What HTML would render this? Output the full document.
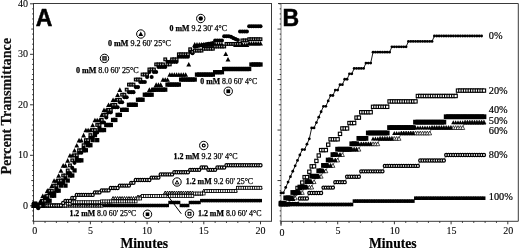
<!DOCTYPE html>
<html><head><meta charset="utf-8"><title>Percent Transmittance</title>
<style>html,body{margin:0;padding:0;background:#fff}svg{display:block}</style></head>
<body><svg width="520" height="249" viewBox="0 0 520 249"><rect x="33.5" y="3.5" width="238.0" height="217.8" fill="#fff" stroke="#3a3a3a" stroke-width="1"/>
<path d="M278 3.5 H518.3 V221.3 H281" fill="none" stroke="#3a3a3a" stroke-width="1"/>
<path d="M281 3.5 V221.3" fill="none" stroke="#6a6a6a" stroke-width="0.9"/>
<path d="M33.7 221.3 v3 M45.04 221.3 v1.6 M56.38 221.3 v1.6 M67.72 221.3 v1.6 M79.06 221.3 v1.6 M90.4 221.3 v3 M101.74 221.3 v1.6 M113.08 221.3 v1.6 M124.42 221.3 v1.6 M135.76 221.3 v1.6 M147.1 221.3 v3 M158.44 221.3 v1.6 M169.78 221.3 v1.6 M181.12 221.3 v1.6 M192.46 221.3 v1.6 M203.8 221.3 v3 M215.14 221.3 v1.6 M226.48 221.3 v1.6 M237.82 221.3 v1.6 M249.16 221.3 v1.6 M260.5 221.3 v3" stroke="#222" stroke-width="0.9" fill="none"/>
<path d="M281 221.3 v3 M292.34 221.3 v1.6 M303.68 221.3 v1.6 M315.02 221.3 v1.6 M326.36 221.3 v1.6 M337.7 221.3 v3 M349.04 221.3 v1.6 M360.38 221.3 v1.6 M371.72 221.3 v1.6 M383.06 221.3 v1.6 M394.4 221.3 v3 M405.74 221.3 v1.6 M417.08 221.3 v1.6 M428.42 221.3 v1.6 M439.76 221.3 v1.6 M451.1 221.3 v3 M462.44 221.3 v1.6 M473.78 221.3 v1.6 M485.12 221.3 v1.6 M496.46 221.3 v1.6 M507.8 221.3 v3" stroke="#222" stroke-width="0.9" fill="none"/>
<path d="M281 221.3 v4.5" stroke="#222" stroke-width="0.9" fill="none"/>
<path d="M33.5 220.95 h-1.3 M33.5 215.9 h-1.3 M33.5 210.85 h-1.3 M33.5 205.8 h-3.5 M33.5 200.75 h-1.3 M33.5 195.7 h-1.3 M33.5 190.65 h-1.3 M33.5 185.6 h-1.3 M33.5 180.55 h-2.2 M33.5 175.5 h-1.3 M33.5 170.45 h-1.3 M33.5 165.4 h-1.3 M33.5 160.35 h-1.3 M33.5 155.3 h-3.5 M33.5 150.25 h-1.3 M33.5 145.2 h-1.3 M33.5 140.15 h-1.3 M33.5 135.1 h-1.3 M33.5 130.05 h-2.2 M33.5 125 h-1.3 M33.5 119.95 h-1.3 M33.5 114.9 h-1.3 M33.5 109.85 h-1.3 M33.5 104.8 h-3.5 M33.5 99.75 h-1.3 M33.5 94.7 h-1.3 M33.5 89.65 h-1.3 M33.5 84.6 h-1.3 M33.5 79.55 h-2.2 M33.5 74.5 h-1.3 M33.5 69.45 h-1.3 M33.5 64.4 h-1.3 M33.5 59.35 h-1.3 M33.5 54.3 h-3.5 M33.5 49.25 h-1.3 M33.5 44.2 h-1.3 M33.5 39.15 h-1.3 M33.5 34.1 h-1.3 M33.5 29.05 h-2.2 M33.5 24 h-1.3 M33.5 18.95 h-1.3 M33.5 13.9 h-1.3 M33.5 8.85 h-1.3 M33.5 3.8 h-3.5" stroke="#222" stroke-width="0.9" fill="none"/>
<path d="M281 220.95 h-1.3 M281 215.9 h-1.3 M281 210.85 h-1.3 M281 205.8 h-2.2 M281 200.75 h-1.3 M281 195.7 h-1.3 M281 190.65 h-1.3 M281 185.6 h-1.3 M281 180.55 h-3.5 M281 175.5 h-1.3 M281 170.45 h-1.3 M281 165.4 h-1.3 M281 160.35 h-1.3 M281 155.3 h-2.2 M281 150.25 h-1.3 M281 145.2 h-1.3 M281 140.15 h-1.3 M281 135.1 h-1.3 M281 130.05 h-3.5 M281 125 h-1.3 M281 119.95 h-1.3 M281 114.9 h-1.3 M281 109.85 h-1.3 M281 104.8 h-2.2 M281 99.75 h-1.3 M281 94.7 h-1.3 M281 89.65 h-1.3 M281 84.6 h-1.3 M281 79.55 h-3.5 M281 74.5 h-1.3 M281 69.45 h-1.3 M281 64.4 h-1.3 M281 59.35 h-1.3 M281 54.3 h-2.2 M281 49.25 h-1.3 M281 44.2 h-1.3 M281 39.15 h-1.3 M281 34.1 h-1.3 M281 29.05 h-3.5 M281 24 h-1.3 M281 18.95 h-1.3 M281 13.9 h-1.3 M281 8.85 h-1.3 M281 3.8 h-2.2" stroke="#222" stroke-width="0.9" fill="none"/>
<g><rect x="32.2" y="203.8" width="3.0" height="3.4" fill="#000"/><rect x="34.47" y="203.8" width="3.0" height="3.4" fill="#000"/><rect x="36.74" y="203.8" width="3.0" height="3.4" fill="#000"/><rect x="39" y="203.8" width="3.0" height="3.4" fill="#000"/><rect x="41.27" y="203.8" width="3.0" height="3.4" fill="#000"/><rect x="43.54" y="203.8" width="3.0" height="3.4" fill="#000"/><rect x="45.81" y="203.8" width="3.0" height="3.4" fill="#000"/><rect x="48.08" y="203.8" width="3.0" height="3.4" fill="#000"/><rect x="50.34" y="203.8" width="3.0" height="3.4" fill="#000"/><rect x="52.61" y="203.8" width="3.0" height="3.4" fill="#000"/><rect x="54.88" y="203.8" width="3.0" height="3.4" fill="#000"/><rect x="57.15" y="203.8" width="3.0" height="3.4" fill="#000"/><rect x="59.42" y="203.8" width="3.0" height="3.4" fill="#000"/><rect x="61.68" y="203.8" width="3.0" height="3.4" fill="#000"/><rect x="63.95" y="203.8" width="3.0" height="3.4" fill="#000"/><rect x="66.22" y="203.8" width="3.0" height="3.4" fill="#000"/><rect x="68.49" y="203.8" width="3.0" height="3.4" fill="#000"/><rect x="70.76" y="203.8" width="3.0" height="3.4" fill="#000"/><rect x="73.02" y="203.8" width="3.0" height="3.4" fill="#000"/><rect x="75.29" y="203.8" width="3.0" height="3.4" fill="#000"/><rect x="77.56" y="203.8" width="3.0" height="3.4" fill="#000"/><rect x="79.83" y="203.8" width="3.0" height="3.4" fill="#000"/><rect x="82.1" y="203.8" width="3.0" height="3.4" fill="#000"/><rect x="84.36" y="203.8" width="3.0" height="3.4" fill="#000"/><rect x="86.63" y="203.8" width="3.0" height="3.4" fill="#000"/><rect x="88.9" y="203.8" width="3.0" height="3.4" fill="#000"/><rect x="91.17" y="203.8" width="3.0" height="3.4" fill="#000"/><rect x="93.44" y="203.8" width="3.0" height="3.4" fill="#000"/><rect x="95.7" y="203.8" width="3.0" height="3.4" fill="#000"/><rect x="97.97" y="203.8" width="3.0" height="3.4" fill="#000"/><rect x="100.24" y="203.8" width="3.0" height="3.4" fill="#000"/><rect x="102.51" y="203.8" width="3.0" height="3.4" fill="#000"/><rect x="104.78" y="203.8" width="3.0" height="3.4" fill="#000"/><rect x="107.04" y="203.8" width="3.0" height="3.4" fill="#000"/><rect x="109.31" y="203.8" width="3.0" height="3.4" fill="#000"/><rect x="111.58" y="203.8" width="3.0" height="3.4" fill="#000"/><rect x="113.85" y="203.8" width="3.0" height="3.4" fill="#000"/><rect x="116.12" y="203.8" width="3.0" height="3.4" fill="#000"/><rect x="118.38" y="203.8" width="3.0" height="3.4" fill="#000"/><rect x="120.65" y="203.8" width="3.0" height="3.4" fill="#000"/><rect x="122.92" y="203.8" width="3.0" height="3.4" fill="#000"/><rect x="125.19" y="203.8" width="3.0" height="3.4" fill="#000"/><rect x="127.46" y="203.8" width="3.0" height="3.4" fill="#000"/><rect x="129.72" y="203.8" width="3.0" height="3.4" fill="#000"/><rect x="131.99" y="203.8" width="3.0" height="3.4" fill="#000"/><rect x="134.26" y="203.8" width="3.0" height="3.4" fill="#000"/><rect x="136.53" y="203.8" width="3.0" height="3.4" fill="#000"/><rect x="138.8" y="203.8" width="3.0" height="3.4" fill="#000"/><rect x="141.06" y="203.8" width="3.0" height="3.4" fill="#000"/><rect x="143.33" y="203.8" width="3.0" height="3.4" fill="#000"/><rect x="145.6" y="203.8" width="3.0" height="3.4" fill="#000"/><rect x="147.87" y="203.8" width="3.0" height="3.4" fill="#000"/><rect x="150.14" y="203.8" width="3.0" height="3.4" fill="#000"/><rect x="152.4" y="203.8" width="3.0" height="3.4" fill="#000"/><rect x="154.67" y="203.8" width="3.0" height="3.4" fill="#000"/><rect x="156.94" y="203.8" width="3.0" height="3.4" fill="#000"/><rect x="159.21" y="203.8" width="3.0" height="3.4" fill="#000"/><rect x="161.48" y="203.8" width="3.0" height="3.4" fill="#000"/><rect x="163.74" y="203.8" width="3.0" height="3.4" fill="#000"/><rect x="166.01" y="203.8" width="3.0" height="3.4" fill="#000"/><rect x="168.28" y="200.8" width="3.0" height="3.4" fill="#000"/><rect x="170.55" y="200.8" width="3.0" height="3.4" fill="#000"/><rect x="172.82" y="200.8" width="3.0" height="3.4" fill="#000"/><rect x="175.08" y="200.8" width="3.0" height="3.4" fill="#000"/><rect x="177.35" y="200.8" width="3.0" height="3.4" fill="#000"/><rect x="179.62" y="203.8" width="3.0" height="3.4" fill="#000"/><rect x="181.89" y="203.8" width="3.0" height="3.4" fill="#000"/><rect x="184.16" y="203.8" width="3.0" height="3.4" fill="#000"/><rect x="186.42" y="203.8" width="3.0" height="3.4" fill="#000"/><rect x="188.69" y="200.8" width="3.0" height="3.4" fill="#000"/><rect x="190.96" y="200.8" width="3.0" height="3.4" fill="#000"/><rect x="193.23" y="200.8" width="3.0" height="3.4" fill="#000"/><rect x="195.5" y="200.8" width="3.0" height="3.4" fill="#000"/><rect x="197.76" y="200.8" width="3.0" height="3.4" fill="#000"/><rect x="200.03" y="198.9" width="3.0" height="3.4" fill="#000"/><rect x="202.3" y="198.9" width="3.0" height="3.4" fill="#000"/><rect x="204.57" y="198.9" width="3.0" height="3.4" fill="#000"/><rect x="206.84" y="198.9" width="3.0" height="3.4" fill="#000"/><rect x="209.1" y="198.9" width="3.0" height="3.4" fill="#000"/><rect x="211.37" y="198.9" width="3.0" height="3.4" fill="#000"/><rect x="213.64" y="198.9" width="3.0" height="3.4" fill="#000"/><rect x="215.91" y="198.9" width="3.0" height="3.4" fill="#000"/><rect x="218.18" y="198.9" width="3.0" height="3.4" fill="#000"/><rect x="220.44" y="198.9" width="3.0" height="3.4" fill="#000"/><rect x="222.71" y="198.9" width="3.0" height="3.4" fill="#000"/><rect x="224.98" y="198.9" width="3.0" height="3.4" fill="#000"/><rect x="227.25" y="198.9" width="3.0" height="3.4" fill="#000"/><rect x="229.52" y="198.9" width="3.0" height="3.4" fill="#000"/><rect x="231.78" y="198.9" width="3.0" height="3.4" fill="#000"/><rect x="234.05" y="198.9" width="3.0" height="3.4" fill="#000"/><rect x="236.32" y="198.9" width="3.0" height="3.4" fill="#000"/><rect x="238.59" y="198.9" width="3.0" height="3.4" fill="#000"/><rect x="240.86" y="198.9" width="3.0" height="3.4" fill="#000"/><rect x="243.12" y="198.9" width="3.0" height="3.4" fill="#000"/><rect x="245.39" y="198.9" width="3.0" height="3.4" fill="#000"/><rect x="247.66" y="198.9" width="3.0" height="3.4" fill="#000"/><rect x="249.93" y="198.9" width="3.0" height="3.4" fill="#000"/><rect x="252.2" y="198.9" width="3.0" height="3.4" fill="#000"/><rect x="254.46" y="198.9" width="3.0" height="3.4" fill="#000"/><rect x="256.73" y="198.9" width="3.0" height="3.4" fill="#000"/><rect x="259" y="198.9" width="3.0" height="3.4" fill="#000"/></g>
<g><polygon points="32.05,207 35.35,207 33.7,204" fill="#fff" stroke="#000" stroke-width="0.95"/><polygon points="34.32,207 37.62,207 35.97,204" fill="#fff" stroke="#000" stroke-width="0.95"/><polygon points="36.59,207 39.89,207 38.24,204" fill="#fff" stroke="#000" stroke-width="0.95"/><polygon points="38.85,207 42.15,207 40.5,204" fill="#fff" stroke="#000" stroke-width="0.95"/><polygon points="41.12,207 44.42,207 42.77,204" fill="#fff" stroke="#000" stroke-width="0.95"/><polygon points="43.39,207 46.69,207 45.04,204" fill="#fff" stroke="#000" stroke-width="0.95"/><polygon points="45.66,207 48.96,207 47.31,204" fill="#fff" stroke="#000" stroke-width="0.95"/><polygon points="47.93,207 51.23,207 49.58,204" fill="#fff" stroke="#000" stroke-width="0.95"/><polygon points="50.19,207 53.49,207 51.84,204" fill="#fff" stroke="#000" stroke-width="0.95"/><polygon points="52.46,207 55.76,207 54.11,204" fill="#fff" stroke="#000" stroke-width="0.95"/><polygon points="54.73,207 58.03,207 56.38,204" fill="#fff" stroke="#000" stroke-width="0.95"/><polygon points="57,207 60.3,207 58.65,204" fill="#fff" stroke="#000" stroke-width="0.95"/><polygon points="59.27,207 62.57,207 60.92,204" fill="#fff" stroke="#000" stroke-width="0.95"/><polygon points="61.53,207 64.83,207 63.18,204" fill="#fff" stroke="#000" stroke-width="0.95"/><polygon points="63.8,207 67.1,207 65.45,204" fill="#fff" stroke="#000" stroke-width="0.95"/><polygon points="66.07,207 69.37,207 67.72,204" fill="#fff" stroke="#000" stroke-width="0.95"/><polygon points="68.34,207 71.64,207 69.99,204" fill="#fff" stroke="#000" stroke-width="0.95"/><polygon points="70.61,207 73.91,207 72.26,204" fill="#fff" stroke="#000" stroke-width="0.95"/><polygon points="72.87,207 76.17,207 74.52,204" fill="#fff" stroke="#000" stroke-width="0.95"/><polygon points="75.14,207 78.44,207 76.79,204" fill="#fff" stroke="#000" stroke-width="0.95"/><polygon points="77.41,207 80.71,207 79.06,204" fill="#fff" stroke="#000" stroke-width="0.95"/><polygon points="79.68,207 82.98,207 81.33,204" fill="#fff" stroke="#000" stroke-width="0.95"/><polygon points="81.95,207 85.25,207 83.6,204" fill="#fff" stroke="#000" stroke-width="0.95"/><polygon points="84.21,207 87.51,207 85.86,204" fill="#fff" stroke="#000" stroke-width="0.95"/><polygon points="86.48,207 89.78,207 88.13,204" fill="#fff" stroke="#000" stroke-width="0.95"/><polygon points="88.75,207 92.05,207 90.4,204" fill="#fff" stroke="#000" stroke-width="0.95"/><polygon points="91.02,207 94.32,207 92.67,204" fill="#fff" stroke="#000" stroke-width="0.95"/><polygon points="93.29,207 96.59,207 94.94,204" fill="#fff" stroke="#000" stroke-width="0.95"/><polygon points="95.55,207 98.85,207 97.2,204" fill="#fff" stroke="#000" stroke-width="0.95"/><polygon points="97.82,207 101.12,207 99.47,204" fill="#fff" stroke="#000" stroke-width="0.95"/><polygon points="100.09,207 103.39,207 101.74,204" fill="#fff" stroke="#000" stroke-width="0.95"/><polygon points="102.36,204.5 105.66,204.5 104.01,201.5" fill="#fff" stroke="#000" stroke-width="0.95"/><polygon points="104.63,204.5 107.93,204.5 106.28,201.5" fill="#fff" stroke="#000" stroke-width="0.95"/><polygon points="106.89,202.9 110.19,202.9 108.54,199.9" fill="#fff" stroke="#000" stroke-width="0.95"/><polygon points="109.16,202.9 112.46,202.9 110.81,199.9" fill="#fff" stroke="#000" stroke-width="0.95"/><polygon points="111.43,199.5 114.73,199.5 113.08,196.5" fill="#fff" stroke="#000" stroke-width="0.95"/><polygon points="113.7,199.5 117,199.5 115.35,196.5" fill="#fff" stroke="#000" stroke-width="0.95"/><polygon points="115.97,199.5 119.27,199.5 117.62,196.5" fill="#fff" stroke="#000" stroke-width="0.95"/><polygon points="118.23,199.5 121.53,199.5 119.88,196.5" fill="#fff" stroke="#000" stroke-width="0.95"/><polygon points="120.5,199.5 123.8,199.5 122.15,196.5" fill="#fff" stroke="#000" stroke-width="0.95"/><polygon points="122.77,199.5 126.07,199.5 124.42,196.5" fill="#fff" stroke="#000" stroke-width="0.95"/><polygon points="125.04,199.5 128.34,199.5 126.69,196.5" fill="#fff" stroke="#000" stroke-width="0.95"/><polygon points="127.31,199.5 130.61,199.5 128.96,196.5" fill="#fff" stroke="#000" stroke-width="0.95"/><polygon points="129.57,199.5 132.87,199.5 131.22,196.5" fill="#fff" stroke="#000" stroke-width="0.95"/><polygon points="131.84,199.5 135.14,199.5 133.49,196.5" fill="#fff" stroke="#000" stroke-width="0.95"/><polygon points="134.11,199.5 137.41,199.5 135.76,196.5" fill="#fff" stroke="#000" stroke-width="0.95"/><polygon points="136.38,198 139.68,198 138.03,195" fill="#fff" stroke="#000" stroke-width="0.95"/><polygon points="138.65,198 141.95,198 140.3,195" fill="#fff" stroke="#000" stroke-width="0.95"/><polygon points="140.91,197.25 144.21,197.25 142.56,194.25" fill="#fff" stroke="#000" stroke-width="0.95"/><polygon points="143.18,197.25 146.48,197.25 144.83,194.25" fill="#fff" stroke="#000" stroke-width="0.95"/><polygon points="145.45,197.25 148.75,197.25 147.1,194.25" fill="#fff" stroke="#000" stroke-width="0.95"/><polygon points="147.72,197.25 151.02,197.25 149.37,194.25" fill="#fff" stroke="#000" stroke-width="0.95"/><polygon points="149.99,197.25 153.29,197.25 151.64,194.25" fill="#fff" stroke="#000" stroke-width="0.95"/><polygon points="152.25,197.25 155.55,197.25 153.9,194.25" fill="#fff" stroke="#000" stroke-width="0.95"/><polygon points="154.52,197.25 157.82,197.25 156.17,194.25" fill="#fff" stroke="#000" stroke-width="0.95"/><polygon points="156.79,197.25 160.09,197.25 158.44,194.25" fill="#fff" stroke="#000" stroke-width="0.95"/><polygon points="159.06,197.25 162.36,197.25 160.71,194.25" fill="#fff" stroke="#000" stroke-width="0.95"/><polygon points="161.33,197.25 164.63,197.25 162.98,194.25" fill="#fff" stroke="#000" stroke-width="0.95"/><polygon points="163.59,194 166.89,194 165.24,191" fill="#fff" stroke="#000" stroke-width="0.95"/><polygon points="165.86,194 169.16,194 167.51,191" fill="#fff" stroke="#000" stroke-width="0.95"/><polygon points="168.13,194 171.43,194 169.78,191" fill="#fff" stroke="#000" stroke-width="0.95"/><polygon points="170.4,194 173.7,194 172.05,191" fill="#fff" stroke="#000" stroke-width="0.95"/><polygon points="172.67,194 175.97,194 174.32,191" fill="#fff" stroke="#000" stroke-width="0.95"/><polygon points="174.93,194 178.23,194 176.58,191" fill="#fff" stroke="#000" stroke-width="0.95"/><polygon points="177.2,194 180.5,194 178.85,191" fill="#fff" stroke="#000" stroke-width="0.95"/><polygon points="179.47,194 182.77,194 181.12,191" fill="#fff" stroke="#000" stroke-width="0.95"/><polygon points="181.74,194 185.04,194 183.39,191" fill="#fff" stroke="#000" stroke-width="0.95"/><polygon points="184.01,194 187.31,194 185.66,191" fill="#fff" stroke="#000" stroke-width="0.95"/><polygon points="186.27,194 189.57,194 187.92,191" fill="#fff" stroke="#000" stroke-width="0.95"/><polygon points="188.54,194 191.84,194 190.19,191" fill="#fff" stroke="#000" stroke-width="0.95"/><polygon points="190.81,194 194.11,194 192.46,191" fill="#fff" stroke="#000" stroke-width="0.95"/><polygon points="193.08,195 196.38,195 194.73,192" fill="#fff" stroke="#000" stroke-width="0.95"/><polygon points="195.35,195 198.65,195 197,192" fill="#fff" stroke="#000" stroke-width="0.95"/><polygon points="197.61,195 200.91,195 199.26,192" fill="#fff" stroke="#000" stroke-width="0.95"/><polygon points="199.88,195 203.18,195 201.53,192" fill="#fff" stroke="#000" stroke-width="0.95"/><polygon points="202.15,192.1 205.45,192.1 203.8,189.1" fill="#fff" stroke="#000" stroke-width="0.95"/><polygon points="204.42,192.1 207.72,192.1 206.07,189.1" fill="#fff" stroke="#000" stroke-width="0.95"/><polygon points="206.69,192.1 209.99,192.1 208.34,189.1" fill="#fff" stroke="#000" stroke-width="0.95"/><polygon points="208.95,192.1 212.25,192.1 210.6,189.1" fill="#fff" stroke="#000" stroke-width="0.95"/><polygon points="211.22,192.1 214.52,192.1 212.87,189.1" fill="#fff" stroke="#000" stroke-width="0.95"/><polygon points="213.49,192.1 216.79,192.1 215.14,189.1" fill="#fff" stroke="#000" stroke-width="0.95"/><polygon points="215.76,192.1 219.06,192.1 217.41,189.1" fill="#fff" stroke="#000" stroke-width="0.95"/><polygon points="218.03,192.1 221.33,192.1 219.68,189.1" fill="#fff" stroke="#000" stroke-width="0.95"/><polygon points="220.29,192.1 223.59,192.1 221.94,189.1" fill="#fff" stroke="#000" stroke-width="0.95"/><polygon points="222.56,192.1 225.86,192.1 224.21,189.1" fill="#fff" stroke="#000" stroke-width="0.95"/><polygon points="224.83,192.1 228.13,192.1 226.48,189.1" fill="#fff" stroke="#000" stroke-width="0.95"/><polygon points="227.1,192.1 230.4,192.1 228.75,189.1" fill="#fff" stroke="#000" stroke-width="0.95"/><polygon points="229.37,192.1 232.67,192.1 231.02,189.1" fill="#fff" stroke="#000" stroke-width="0.95"/><polygon points="231.63,192.1 234.93,192.1 233.28,189.1" fill="#fff" stroke="#000" stroke-width="0.95"/><polygon points="233.9,192.1 237.2,192.1 235.55,189.1" fill="#fff" stroke="#000" stroke-width="0.95"/><polygon points="236.17,188.9 239.47,188.9 237.82,185.9" fill="#fff" stroke="#000" stroke-width="0.95"/><polygon points="238.44,188.9 241.74,188.9 240.09,185.9" fill="#fff" stroke="#000" stroke-width="0.95"/><polygon points="240.71,188.9 244.01,188.9 242.36,185.9" fill="#fff" stroke="#000" stroke-width="0.95"/><polygon points="242.97,188.9 246.27,188.9 244.62,185.9" fill="#fff" stroke="#000" stroke-width="0.95"/><polygon points="245.24,188.9 248.54,188.9 246.89,185.9" fill="#fff" stroke="#000" stroke-width="0.95"/><polygon points="247.51,188.9 250.81,188.9 249.16,185.9" fill="#fff" stroke="#000" stroke-width="0.95"/><polygon points="249.78,188.9 253.08,188.9 251.43,185.9" fill="#fff" stroke="#000" stroke-width="0.95"/><polygon points="252.05,188.9 255.35,188.9 253.7,185.9" fill="#fff" stroke="#000" stroke-width="0.95"/><polygon points="254.31,188.9 257.61,188.9 255.96,185.9" fill="#fff" stroke="#000" stroke-width="0.95"/><polygon points="256.58,188.9 259.88,188.9 258.23,185.9" fill="#fff" stroke="#000" stroke-width="0.95"/><polygon points="258.85,188.9 262.15,188.9 260.5,185.9" fill="#fff" stroke="#000" stroke-width="0.95"/></g>
<g><rect x="32.4" y="204.05" width="2.6" height="2.9" fill="#fff" stroke="#000" stroke-width="0.8"/><rect x="34.67" y="204.05" width="2.6" height="2.9" fill="#fff" stroke="#000" stroke-width="0.8"/><rect x="36.94" y="204.05" width="2.6" height="2.9" fill="#fff" stroke="#000" stroke-width="0.8"/><rect x="39.2" y="204.05" width="2.6" height="2.9" fill="#fff" stroke="#000" stroke-width="0.8"/><rect x="41.47" y="204.05" width="2.6" height="2.9" fill="#fff" stroke="#000" stroke-width="0.8"/><rect x="43.74" y="204.05" width="2.6" height="2.9" fill="#fff" stroke="#000" stroke-width="0.8"/><rect x="46.01" y="204.05" width="2.6" height="2.9" fill="#fff" stroke="#000" stroke-width="0.8"/><rect x="48.28" y="204.05" width="2.6" height="2.9" fill="#fff" stroke="#000" stroke-width="0.8"/><rect x="50.54" y="204.05" width="2.6" height="2.9" fill="#fff" stroke="#000" stroke-width="0.8"/><rect x="52.81" y="204.05" width="2.6" height="2.9" fill="#fff" stroke="#000" stroke-width="0.8"/><rect x="55.08" y="204.05" width="2.6" height="2.9" fill="#fff" stroke="#000" stroke-width="0.8"/><rect x="57.35" y="204.05" width="2.6" height="2.9" fill="#fff" stroke="#000" stroke-width="0.8"/><rect x="59.62" y="204.05" width="2.6" height="2.9" fill="#fff" stroke="#000" stroke-width="0.8"/><rect x="61.88" y="204.05" width="2.6" height="2.9" fill="#fff" stroke="#000" stroke-width="0.8"/><rect x="64.15" y="204.05" width="2.6" height="2.9" fill="#fff" stroke="#000" stroke-width="0.8"/><rect x="66.42" y="202.05" width="2.6" height="2.9" fill="#fff" stroke="#000" stroke-width="0.8"/><rect x="68.69" y="202.05" width="2.6" height="2.9" fill="#fff" stroke="#000" stroke-width="0.8"/><rect x="70.96" y="200.75" width="2.6" height="2.9" fill="#fff" stroke="#000" stroke-width="0.8"/><rect x="73.22" y="200.75" width="2.6" height="2.9" fill="#fff" stroke="#000" stroke-width="0.8"/><rect x="75.49" y="200.75" width="2.6" height="2.9" fill="#fff" stroke="#000" stroke-width="0.8"/><rect x="77.76" y="200.75" width="2.6" height="2.9" fill="#fff" stroke="#000" stroke-width="0.8"/><rect x="80.03" y="200.75" width="2.6" height="2.9" fill="#fff" stroke="#000" stroke-width="0.8"/><rect x="82.3" y="200.75" width="2.6" height="2.9" fill="#fff" stroke="#000" stroke-width="0.8"/><rect x="84.56" y="200.75" width="2.6" height="2.9" fill="#fff" stroke="#000" stroke-width="0.8"/><rect x="86.83" y="200.75" width="2.6" height="2.9" fill="#fff" stroke="#000" stroke-width="0.8"/><rect x="89.1" y="200.75" width="2.6" height="2.9" fill="#fff" stroke="#000" stroke-width="0.8"/><rect x="91.37" y="200.75" width="2.6" height="2.9" fill="#fff" stroke="#000" stroke-width="0.8"/><rect x="93.64" y="200.75" width="2.6" height="2.9" fill="#fff" stroke="#000" stroke-width="0.8"/><rect x="95.9" y="200.75" width="2.6" height="2.9" fill="#fff" stroke="#000" stroke-width="0.8"/><rect x="98.17" y="200.75" width="2.6" height="2.9" fill="#fff" stroke="#000" stroke-width="0.8"/><rect x="100.44" y="199.95" width="2.6" height="2.9" fill="#fff" stroke="#000" stroke-width="0.8"/><rect x="102.71" y="199.95" width="2.6" height="2.9" fill="#fff" stroke="#000" stroke-width="0.8"/><rect x="104.98" y="199.95" width="2.6" height="2.9" fill="#fff" stroke="#000" stroke-width="0.8"/><rect x="107.24" y="199.95" width="2.6" height="2.9" fill="#fff" stroke="#000" stroke-width="0.8"/><rect x="109.51" y="199.95" width="2.6" height="2.9" fill="#fff" stroke="#000" stroke-width="0.8"/><rect x="111.78" y="199.95" width="2.6" height="2.9" fill="#fff" stroke="#000" stroke-width="0.8"/><rect x="114.05" y="199.95" width="2.6" height="2.9" fill="#fff" stroke="#000" stroke-width="0.8"/><rect x="116.32" y="199.95" width="2.6" height="2.9" fill="#fff" stroke="#000" stroke-width="0.8"/><rect x="118.58" y="199.95" width="2.6" height="2.9" fill="#fff" stroke="#000" stroke-width="0.8"/><rect x="120.85" y="199.95" width="2.6" height="2.9" fill="#fff" stroke="#000" stroke-width="0.8"/><rect x="123.12" y="199.95" width="2.6" height="2.9" fill="#fff" stroke="#000" stroke-width="0.8"/><rect x="125.39" y="199.95" width="2.6" height="2.9" fill="#fff" stroke="#000" stroke-width="0.8"/><rect x="127.66" y="199.95" width="2.6" height="2.9" fill="#fff" stroke="#000" stroke-width="0.8"/><rect x="129.92" y="199.95" width="2.6" height="2.9" fill="#fff" stroke="#000" stroke-width="0.8"/><rect x="132.19" y="199.95" width="2.6" height="2.9" fill="#fff" stroke="#000" stroke-width="0.8"/><rect x="134.46" y="199.95" width="2.6" height="2.9" fill="#fff" stroke="#000" stroke-width="0.8"/><rect x="136.73" y="197.05" width="2.6" height="2.9" fill="#fff" stroke="#000" stroke-width="0.8"/><rect x="139" y="197.05" width="2.6" height="2.9" fill="#fff" stroke="#000" stroke-width="0.8"/><rect x="141.26" y="194.55" width="2.6" height="2.9" fill="#fff" stroke="#000" stroke-width="0.8"/><rect x="143.53" y="194.55" width="2.6" height="2.9" fill="#fff" stroke="#000" stroke-width="0.8"/><rect x="145.8" y="194.55" width="2.6" height="2.9" fill="#fff" stroke="#000" stroke-width="0.8"/><rect x="148.07" y="194.55" width="2.6" height="2.9" fill="#fff" stroke="#000" stroke-width="0.8"/><rect x="150.34" y="194.55" width="2.6" height="2.9" fill="#fff" stroke="#000" stroke-width="0.8"/><rect x="152.6" y="194.55" width="2.6" height="2.9" fill="#fff" stroke="#000" stroke-width="0.8"/><rect x="154.87" y="194.55" width="2.6" height="2.9" fill="#fff" stroke="#000" stroke-width="0.8"/><rect x="157.14" y="194.55" width="2.6" height="2.9" fill="#fff" stroke="#000" stroke-width="0.8"/><rect x="159.41" y="194.55" width="2.6" height="2.9" fill="#fff" stroke="#000" stroke-width="0.8"/><rect x="161.68" y="194.55" width="2.6" height="2.9" fill="#fff" stroke="#000" stroke-width="0.8"/><rect x="163.94" y="194.55" width="2.6" height="2.9" fill="#fff" stroke="#000" stroke-width="0.8"/><rect x="166.21" y="194.55" width="2.6" height="2.9" fill="#fff" stroke="#000" stroke-width="0.8"/><rect x="168.48" y="194.55" width="2.6" height="2.9" fill="#fff" stroke="#000" stroke-width="0.8"/><rect x="170.75" y="194.55" width="2.6" height="2.9" fill="#fff" stroke="#000" stroke-width="0.8"/><rect x="173.02" y="194.55" width="2.6" height="2.9" fill="#fff" stroke="#000" stroke-width="0.8"/><rect x="175.28" y="194.55" width="2.6" height="2.9" fill="#fff" stroke="#000" stroke-width="0.8"/><rect x="177.55" y="194.55" width="2.6" height="2.9" fill="#fff" stroke="#000" stroke-width="0.8"/><rect x="179.82" y="194.55" width="2.6" height="2.9" fill="#fff" stroke="#000" stroke-width="0.8"/><rect x="182.09" y="194.55" width="2.6" height="2.9" fill="#fff" stroke="#000" stroke-width="0.8"/><rect x="184.36" y="194.55" width="2.6" height="2.9" fill="#fff" stroke="#000" stroke-width="0.8"/><rect x="186.62" y="194.55" width="2.6" height="2.9" fill="#fff" stroke="#000" stroke-width="0.8"/><rect x="188.89" y="194.55" width="2.6" height="2.9" fill="#fff" stroke="#000" stroke-width="0.8"/><rect x="191.16" y="194.55" width="2.6" height="2.9" fill="#fff" stroke="#000" stroke-width="0.8"/><rect x="193.43" y="192.05" width="2.6" height="2.9" fill="#fff" stroke="#000" stroke-width="0.8"/><rect x="195.7" y="192.05" width="2.6" height="2.9" fill="#fff" stroke="#000" stroke-width="0.8"/><rect x="197.96" y="192.05" width="2.6" height="2.9" fill="#fff" stroke="#000" stroke-width="0.8"/><rect x="200.23" y="192.05" width="2.6" height="2.9" fill="#fff" stroke="#000" stroke-width="0.8"/><rect x="202.5" y="192.05" width="2.6" height="2.9" fill="#fff" stroke="#000" stroke-width="0.8"/><rect x="204.77" y="189.55" width="2.6" height="2.9" fill="#fff" stroke="#000" stroke-width="0.8"/><rect x="207.04" y="189.55" width="2.6" height="2.9" fill="#fff" stroke="#000" stroke-width="0.8"/><rect x="209.3" y="189.55" width="2.6" height="2.9" fill="#fff" stroke="#000" stroke-width="0.8"/><rect x="211.57" y="189.55" width="2.6" height="2.9" fill="#fff" stroke="#000" stroke-width="0.8"/><rect x="213.84" y="189.55" width="2.6" height="2.9" fill="#fff" stroke="#000" stroke-width="0.8"/><rect x="216.11" y="189.55" width="2.6" height="2.9" fill="#fff" stroke="#000" stroke-width="0.8"/><rect x="218.38" y="189.55" width="2.6" height="2.9" fill="#fff" stroke="#000" stroke-width="0.8"/><rect x="220.64" y="189.55" width="2.6" height="2.9" fill="#fff" stroke="#000" stroke-width="0.8"/><rect x="222.91" y="189.55" width="2.6" height="2.9" fill="#fff" stroke="#000" stroke-width="0.8"/><rect x="225.18" y="189.55" width="2.6" height="2.9" fill="#fff" stroke="#000" stroke-width="0.8"/><rect x="227.45" y="189.55" width="2.6" height="2.9" fill="#fff" stroke="#000" stroke-width="0.8"/><rect x="229.72" y="189.55" width="2.6" height="2.9" fill="#fff" stroke="#000" stroke-width="0.8"/><rect x="231.98" y="189.55" width="2.6" height="2.9" fill="#fff" stroke="#000" stroke-width="0.8"/><rect x="234.25" y="189.55" width="2.6" height="2.9" fill="#fff" stroke="#000" stroke-width="0.8"/><rect x="236.52" y="186.35" width="2.6" height="2.9" fill="#fff" stroke="#000" stroke-width="0.8"/><rect x="238.79" y="186.35" width="2.6" height="2.9" fill="#fff" stroke="#000" stroke-width="0.8"/><rect x="241.06" y="186.35" width="2.6" height="2.9" fill="#fff" stroke="#000" stroke-width="0.8"/><rect x="243.32" y="186.35" width="2.6" height="2.9" fill="#fff" stroke="#000" stroke-width="0.8"/><rect x="245.59" y="186.35" width="2.6" height="2.9" fill="#fff" stroke="#000" stroke-width="0.8"/><rect x="247.86" y="186.35" width="2.6" height="2.9" fill="#fff" stroke="#000" stroke-width="0.8"/><rect x="250.13" y="186.35" width="2.6" height="2.9" fill="#fff" stroke="#000" stroke-width="0.8"/><rect x="252.4" y="186.35" width="2.6" height="2.9" fill="#fff" stroke="#000" stroke-width="0.8"/><rect x="254.66" y="186.35" width="2.6" height="2.9" fill="#fff" stroke="#000" stroke-width="0.8"/><rect x="256.93" y="186.35" width="2.6" height="2.9" fill="#fff" stroke="#000" stroke-width="0.8"/><rect x="259.2" y="186.35" width="2.6" height="2.9" fill="#fff" stroke="#000" stroke-width="0.8"/></g>
<g><circle cx="33.7" cy="205.5" r="1.55" fill="#fff" stroke="#000" stroke-width="1.25"/><circle cx="35.97" cy="205.5" r="1.55" fill="#fff" stroke="#000" stroke-width="1.25"/><circle cx="38.24" cy="205.5" r="1.55" fill="#fff" stroke="#000" stroke-width="1.25"/><circle cx="40.5" cy="205.5" r="1.55" fill="#fff" stroke="#000" stroke-width="1.25"/><circle cx="42.77" cy="205.5" r="1.55" fill="#fff" stroke="#000" stroke-width="1.25"/><circle cx="45.04" cy="205.5" r="1.55" fill="#fff" stroke="#000" stroke-width="1.25"/><circle cx="47.31" cy="205.5" r="1.55" fill="#fff" stroke="#000" stroke-width="1.25"/><circle cx="49.58" cy="205.5" r="1.55" fill="#fff" stroke="#000" stroke-width="1.25"/><circle cx="51.84" cy="205.5" r="1.55" fill="#fff" stroke="#000" stroke-width="1.25"/><circle cx="54.11" cy="205.5" r="1.55" fill="#fff" stroke="#000" stroke-width="1.25"/><circle cx="56.38" cy="205.5" r="1.55" fill="#fff" stroke="#000" stroke-width="1.25"/><circle cx="58.65" cy="205.5" r="1.55" fill="#fff" stroke="#000" stroke-width="1.25"/><circle cx="60.92" cy="205.5" r="1.55" fill="#fff" stroke="#000" stroke-width="1.25"/><circle cx="63.18" cy="203" r="1.55" fill="#fff" stroke="#000" stroke-width="1.25"/><circle cx="65.45" cy="200.9" r="1.55" fill="#fff" stroke="#000" stroke-width="1.25"/><circle cx="67.72" cy="200.9" r="1.55" fill="#fff" stroke="#000" stroke-width="1.25"/><circle cx="69.99" cy="200.9" r="1.55" fill="#fff" stroke="#000" stroke-width="1.25"/><circle cx="72.26" cy="198" r="1.55" fill="#fff" stroke="#000" stroke-width="1.25"/><circle cx="74.52" cy="198" r="1.55" fill="#fff" stroke="#000" stroke-width="1.25"/><circle cx="76.79" cy="194.9" r="1.55" fill="#fff" stroke="#000" stroke-width="1.25"/><circle cx="79.06" cy="194.9" r="1.55" fill="#fff" stroke="#000" stroke-width="1.25"/><circle cx="81.33" cy="194.9" r="1.55" fill="#fff" stroke="#000" stroke-width="1.25"/><circle cx="83.6" cy="194.9" r="1.55" fill="#fff" stroke="#000" stroke-width="1.25"/><circle cx="85.86" cy="194.9" r="1.55" fill="#fff" stroke="#000" stroke-width="1.25"/><circle cx="88.13" cy="194.9" r="1.55" fill="#fff" stroke="#000" stroke-width="1.25"/><circle cx="90.4" cy="194.9" r="1.55" fill="#fff" stroke="#000" stroke-width="1.25"/><circle cx="92.67" cy="194.9" r="1.55" fill="#fff" stroke="#000" stroke-width="1.25"/><circle cx="94.94" cy="192.4" r="1.55" fill="#fff" stroke="#000" stroke-width="1.25"/><circle cx="97.2" cy="192.4" r="1.55" fill="#fff" stroke="#000" stroke-width="1.25"/><circle cx="99.47" cy="192.4" r="1.55" fill="#fff" stroke="#000" stroke-width="1.25"/><circle cx="101.74" cy="190.4" r="1.55" fill="#fff" stroke="#000" stroke-width="1.25"/><circle cx="104.01" cy="190.4" r="1.55" fill="#fff" stroke="#000" stroke-width="1.25"/><circle cx="106.28" cy="190.4" r="1.55" fill="#fff" stroke="#000" stroke-width="1.25"/><circle cx="108.54" cy="190.4" r="1.55" fill="#fff" stroke="#000" stroke-width="1.25"/><circle cx="110.81" cy="188" r="1.55" fill="#fff" stroke="#000" stroke-width="1.25"/><circle cx="113.08" cy="188" r="1.55" fill="#fff" stroke="#000" stroke-width="1.25"/><circle cx="115.35" cy="188" r="1.55" fill="#fff" stroke="#000" stroke-width="1.25"/><circle cx="117.62" cy="188" r="1.55" fill="#fff" stroke="#000" stroke-width="1.25"/><circle cx="119.88" cy="185.6" r="1.55" fill="#fff" stroke="#000" stroke-width="1.25"/><circle cx="122.15" cy="185.6" r="1.55" fill="#fff" stroke="#000" stroke-width="1.25"/><circle cx="124.42" cy="185.6" r="1.55" fill="#fff" stroke="#000" stroke-width="1.25"/><circle cx="126.69" cy="185.6" r="1.55" fill="#fff" stroke="#000" stroke-width="1.25"/><circle cx="128.96" cy="185.6" r="1.55" fill="#fff" stroke="#000" stroke-width="1.25"/><circle cx="131.22" cy="182.8" r="1.55" fill="#fff" stroke="#000" stroke-width="1.25"/><circle cx="133.49" cy="182.8" r="1.55" fill="#fff" stroke="#000" stroke-width="1.25"/><circle cx="135.76" cy="180" r="1.55" fill="#fff" stroke="#000" stroke-width="1.25"/><circle cx="138.03" cy="180" r="1.55" fill="#fff" stroke="#000" stroke-width="1.25"/><circle cx="140.3" cy="180" r="1.55" fill="#fff" stroke="#000" stroke-width="1.25"/><circle cx="142.56" cy="180" r="1.55" fill="#fff" stroke="#000" stroke-width="1.25"/><circle cx="144.83" cy="180" r="1.55" fill="#fff" stroke="#000" stroke-width="1.25"/><circle cx="147.1" cy="180" r="1.55" fill="#fff" stroke="#000" stroke-width="1.25"/><circle cx="149.37" cy="180" r="1.55" fill="#fff" stroke="#000" stroke-width="1.25"/><circle cx="151.64" cy="177.6" r="1.55" fill="#fff" stroke="#000" stroke-width="1.25"/><circle cx="153.9" cy="177.6" r="1.55" fill="#fff" stroke="#000" stroke-width="1.25"/><circle cx="156.17" cy="177.6" r="1.55" fill="#fff" stroke="#000" stroke-width="1.25"/><circle cx="158.44" cy="177.6" r="1.55" fill="#fff" stroke="#000" stroke-width="1.25"/><circle cx="160.71" cy="174.4" r="1.55" fill="#fff" stroke="#000" stroke-width="1.25"/><circle cx="162.98" cy="174.4" r="1.55" fill="#fff" stroke="#000" stroke-width="1.25"/><circle cx="165.24" cy="174.4" r="1.55" fill="#fff" stroke="#000" stroke-width="1.25"/><circle cx="167.51" cy="174.4" r="1.55" fill="#fff" stroke="#000" stroke-width="1.25"/><circle cx="169.78" cy="174.4" r="1.55" fill="#fff" stroke="#000" stroke-width="1.25"/><circle cx="172.05" cy="174.4" r="1.55" fill="#fff" stroke="#000" stroke-width="1.25"/><circle cx="174.32" cy="172.2" r="1.55" fill="#fff" stroke="#000" stroke-width="1.25"/><circle cx="176.58" cy="172.2" r="1.55" fill="#fff" stroke="#000" stroke-width="1.25"/><circle cx="178.85" cy="172.2" r="1.55" fill="#fff" stroke="#000" stroke-width="1.25"/><circle cx="181.12" cy="172.2" r="1.55" fill="#fff" stroke="#000" stroke-width="1.25"/><circle cx="183.39" cy="172.2" r="1.55" fill="#fff" stroke="#000" stroke-width="1.25"/><circle cx="185.66" cy="172.2" r="1.55" fill="#fff" stroke="#000" stroke-width="1.25"/><circle cx="187.92" cy="172.2" r="1.55" fill="#fff" stroke="#000" stroke-width="1.25"/><circle cx="190.19" cy="169.8" r="1.55" fill="#fff" stroke="#000" stroke-width="1.25"/><circle cx="192.46" cy="169.8" r="1.55" fill="#fff" stroke="#000" stroke-width="1.25"/><circle cx="194.73" cy="169.8" r="1.55" fill="#fff" stroke="#000" stroke-width="1.25"/><circle cx="197" cy="169.8" r="1.55" fill="#fff" stroke="#000" stroke-width="1.25"/><circle cx="199.26" cy="169.8" r="1.55" fill="#fff" stroke="#000" stroke-width="1.25"/><circle cx="201.53" cy="167.5" r="1.55" fill="#fff" stroke="#000" stroke-width="1.25"/><circle cx="203.8" cy="167.5" r="1.55" fill="#fff" stroke="#000" stroke-width="1.25"/><circle cx="206.07" cy="167.5" r="1.55" fill="#fff" stroke="#000" stroke-width="1.25"/><circle cx="208.34" cy="169.8" r="1.55" fill="#fff" stroke="#000" stroke-width="1.25"/><circle cx="210.6" cy="169.8" r="1.55" fill="#fff" stroke="#000" stroke-width="1.25"/><circle cx="212.87" cy="169.8" r="1.55" fill="#fff" stroke="#000" stroke-width="1.25"/><circle cx="215.14" cy="169.8" r="1.55" fill="#fff" stroke="#000" stroke-width="1.25"/><circle cx="217.41" cy="167.5" r="1.55" fill="#fff" stroke="#000" stroke-width="1.25"/><circle cx="219.68" cy="167.5" r="1.55" fill="#fff" stroke="#000" stroke-width="1.25"/><circle cx="221.94" cy="167.5" r="1.55" fill="#fff" stroke="#000" stroke-width="1.25"/><circle cx="224.21" cy="167.5" r="1.55" fill="#fff" stroke="#000" stroke-width="1.25"/><circle cx="226.48" cy="165.2" r="1.55" fill="#fff" stroke="#000" stroke-width="1.25"/><circle cx="228.75" cy="165.2" r="1.55" fill="#fff" stroke="#000" stroke-width="1.25"/><circle cx="231.02" cy="165.2" r="1.55" fill="#fff" stroke="#000" stroke-width="1.25"/><circle cx="233.28" cy="165.2" r="1.55" fill="#fff" stroke="#000" stroke-width="1.25"/><circle cx="235.55" cy="165.2" r="1.55" fill="#fff" stroke="#000" stroke-width="1.25"/><circle cx="237.82" cy="165.2" r="1.55" fill="#fff" stroke="#000" stroke-width="1.25"/><circle cx="240.09" cy="165.2" r="1.55" fill="#fff" stroke="#000" stroke-width="1.25"/><circle cx="242.36" cy="165.2" r="1.55" fill="#fff" stroke="#000" stroke-width="1.25"/><circle cx="244.62" cy="165.2" r="1.55" fill="#fff" stroke="#000" stroke-width="1.25"/><circle cx="246.89" cy="165.2" r="1.55" fill="#fff" stroke="#000" stroke-width="1.25"/><circle cx="249.16" cy="165.2" r="1.55" fill="#fff" stroke="#000" stroke-width="1.25"/><circle cx="251.43" cy="165.2" r="1.55" fill="#fff" stroke="#000" stroke-width="1.25"/><circle cx="253.7" cy="165.2" r="1.55" fill="#fff" stroke="#000" stroke-width="1.25"/><circle cx="255.96" cy="165.2" r="1.55" fill="#fff" stroke="#000" stroke-width="1.25"/><circle cx="258.23" cy="165.2" r="1.55" fill="#fff" stroke="#000" stroke-width="1.25"/><circle cx="260.5" cy="165.2" r="1.55" fill="#fff" stroke="#000" stroke-width="1.25"/></g>
<g><circle cx="33.7" cy="203.25" r="2.05" fill="#000"/><circle cx="35.97" cy="203.25" r="2.05" fill="#000"/><circle cx="38.24" cy="208.3" r="2.05" fill="#000"/><circle cx="40.5" cy="203.25" r="2.05" fill="#000"/><circle cx="42.77" cy="203.25" r="2.05" fill="#000"/><circle cx="45.04" cy="198.2" r="2.05" fill="#000"/><circle cx="47.31" cy="198.2" r="2.05" fill="#000"/><circle cx="49.58" cy="193.15" r="2.05" fill="#000"/><circle cx="51.84" cy="193.15" r="2.05" fill="#000"/><circle cx="54.11" cy="193.15" r="2.05" fill="#000"/><circle cx="56.38" cy="188.1" r="2.05" fill="#000"/><circle cx="58.65" cy="183.05" r="2.05" fill="#000"/><circle cx="60.92" cy="183.05" r="2.05" fill="#000"/><circle cx="63.18" cy="183.05" r="2.05" fill="#000"/><circle cx="65.45" cy="178" r="2.05" fill="#000"/><circle cx="67.72" cy="172.95" r="2.05" fill="#000"/><circle cx="69.99" cy="172.95" r="2.05" fill="#000"/><circle cx="72.26" cy="167.9" r="2.05" fill="#000"/><circle cx="74.52" cy="162.85" r="2.05" fill="#000"/><circle cx="76.79" cy="157.8" r="2.05" fill="#000"/><circle cx="79.06" cy="152.75" r="2.05" fill="#000"/><circle cx="81.33" cy="152.75" r="2.05" fill="#000"/><circle cx="83.6" cy="147.7" r="2.05" fill="#000"/><circle cx="85.86" cy="142.65" r="2.05" fill="#000"/><circle cx="88.13" cy="142.65" r="2.05" fill="#000"/><circle cx="90.4" cy="137.6" r="2.05" fill="#000"/><circle cx="92.67" cy="137.6" r="2.05" fill="#000"/><circle cx="94.94" cy="132.55" r="2.05" fill="#000"/><circle cx="97.2" cy="132.55" r="2.05" fill="#000"/><circle cx="99.47" cy="127.5" r="2.05" fill="#000"/><circle cx="101.74" cy="122.45" r="2.05" fill="#000"/><circle cx="104.01" cy="122.45" r="2.05" fill="#000"/><circle cx="106.28" cy="117.4" r="2.05" fill="#000"/><circle cx="108.54" cy="112.35" r="2.05" fill="#000"/><circle cx="110.81" cy="112.35" r="2.05" fill="#000"/><circle cx="113.08" cy="107.3" r="2.05" fill="#000"/><circle cx="115.35" cy="107.3" r="2.05" fill="#000"/><circle cx="117.62" cy="107.3" r="2.05" fill="#000"/><circle cx="119.88" cy="102.25" r="2.05" fill="#000"/><circle cx="122.15" cy="102.25" r="2.05" fill="#000"/><circle cx="124.42" cy="97.2" r="2.05" fill="#000"/><circle cx="126.69" cy="97.2" r="2.05" fill="#000"/><circle cx="128.96" cy="92.15" r="2.05" fill="#000"/><circle cx="131.22" cy="92.15" r="2.05" fill="#000"/><circle cx="133.49" cy="92.15" r="2.05" fill="#000"/><circle cx="135.76" cy="87.1" r="2.05" fill="#000"/><circle cx="138.03" cy="87.1" r="2.05" fill="#000"/><circle cx="140.3" cy="82.05" r="2.05" fill="#000"/><circle cx="142.56" cy="82.05" r="2.05" fill="#000"/><circle cx="144.83" cy="82.05" r="2.05" fill="#000"/><circle cx="147.1" cy="77" r="2.05" fill="#000"/><circle cx="149.37" cy="71.95" r="2.05" fill="#000"/><circle cx="151.64" cy="77" r="2.05" fill="#000"/><circle cx="153.9" cy="71.95" r="2.05" fill="#000"/><circle cx="156.17" cy="71.95" r="2.05" fill="#000"/><circle cx="158.44" cy="66.9" r="2.05" fill="#000"/><circle cx="160.71" cy="66.9" r="2.05" fill="#000"/><circle cx="162.98" cy="66.9" r="2.05" fill="#000"/><circle cx="165.24" cy="66.9" r="2.05" fill="#000"/><circle cx="167.51" cy="61.85" r="2.05" fill="#000"/><circle cx="169.78" cy="61.85" r="2.05" fill="#000"/><circle cx="172.05" cy="61.85" r="2.05" fill="#000"/><circle cx="174.32" cy="61.85" r="2.05" fill="#000"/><circle cx="176.58" cy="61.85" r="2.05" fill="#000"/><circle cx="178.85" cy="56.8" r="2.05" fill="#000"/><circle cx="181.12" cy="56.8" r="2.05" fill="#000"/><circle cx="183.39" cy="56.8" r="2.05" fill="#000"/><circle cx="185.66" cy="56.8" r="2.05" fill="#000"/><circle cx="187.92" cy="56.8" r="2.05" fill="#000"/><circle cx="190.19" cy="51.75" r="2.05" fill="#000"/><circle cx="192.46" cy="53.23" r="2.05" fill="#000"/><circle cx="194.73" cy="46.66" r="2.05" fill="#000"/><circle cx="197" cy="46.18" r="2.05" fill="#000"/><circle cx="199.26" cy="45.71" r="2.05" fill="#000"/><circle cx="201.53" cy="45.23" r="2.05" fill="#000"/><circle cx="203.8" cy="44.75" r="2.05" fill="#000"/><circle cx="206.07" cy="44.31" r="2.05" fill="#000"/><circle cx="208.34" cy="43.9" r="2.05" fill="#000"/><circle cx="210.6" cy="43.5" r="2.05" fill="#000"/><circle cx="212.87" cy="43.09" r="2.05" fill="#000"/><circle cx="215.14" cy="40.6" r="2.05" fill="#000"/><circle cx="217.41" cy="40.6" r="2.05" fill="#000"/><circle cx="219.68" cy="40.6" r="2.05" fill="#000"/><circle cx="221.94" cy="40.6" r="2.05" fill="#000"/><circle cx="224.21" cy="36.3" r="2.05" fill="#000"/><circle cx="226.48" cy="36.3" r="2.05" fill="#000"/><circle cx="228.75" cy="36.3" r="2.05" fill="#000"/><circle cx="231.02" cy="36.86" r="2.05" fill="#000"/><circle cx="233.28" cy="38.11" r="2.05" fill="#000"/><circle cx="235.55" cy="39.1" r="2.05" fill="#000"/><circle cx="237.82" cy="39.97" r="2.05" fill="#000"/><circle cx="240.09" cy="31.5" r="2.05" fill="#000"/><circle cx="242.36" cy="31.5" r="2.05" fill="#000"/><circle cx="244.62" cy="31.5" r="2.05" fill="#000"/><circle cx="246.89" cy="31.5" r="2.05" fill="#000"/><circle cx="249.16" cy="26.3" r="2.05" fill="#000"/><circle cx="251.43" cy="26.3" r="2.05" fill="#000"/><circle cx="253.7" cy="26.3" r="2.05" fill="#000"/><circle cx="255.96" cy="26.3" r="2.05" fill="#000"/><circle cx="258.23" cy="26.3" r="2.05" fill="#000"/><circle cx="260.5" cy="26.3" r="2.05" fill="#000"/></g>
<g><rect x="31.55" y="203.65" width="4.3" height="4.3" fill="#000"/><rect x="33.82" y="203.65" width="4.3" height="4.3" fill="#000"/><rect x="36.09" y="203.65" width="4.3" height="4.3" fill="#000"/><rect x="38.35" y="203.65" width="4.3" height="4.3" fill="#000"/><rect x="40.62" y="203.65" width="4.3" height="4.3" fill="#000"/><rect x="42.89" y="198.6" width="4.3" height="4.3" fill="#000"/><rect x="45.16" y="198.6" width="4.3" height="4.3" fill="#000"/><rect x="47.43" y="198.6" width="4.3" height="4.3" fill="#000"/><rect x="49.69" y="193.55" width="4.3" height="4.3" fill="#000"/><rect x="51.96" y="193.55" width="4.3" height="4.3" fill="#000"/><rect x="54.23" y="188.5" width="4.3" height="4.3" fill="#000"/><rect x="56.5" y="188.5" width="4.3" height="4.3" fill="#000"/><rect x="58.77" y="183.45" width="4.3" height="4.3" fill="#000"/><rect x="61.03" y="178.4" width="4.3" height="4.3" fill="#000"/><rect x="63.3" y="183.45" width="4.3" height="4.3" fill="#000"/><rect x="65.57" y="178.4" width="4.3" height="4.3" fill="#000"/><rect x="67.84" y="173.35" width="4.3" height="4.3" fill="#000"/><rect x="70.11" y="173.35" width="4.3" height="4.3" fill="#000"/><rect x="72.37" y="168.3" width="4.3" height="4.3" fill="#000"/><rect x="74.64" y="158.2" width="4.3" height="4.3" fill="#000"/><rect x="76.91" y="158.2" width="4.3" height="4.3" fill="#000"/><rect x="79.18" y="158.2" width="4.3" height="4.3" fill="#000"/><rect x="81.45" y="148.1" width="4.3" height="4.3" fill="#000"/><rect x="83.71" y="148.1" width="4.3" height="4.3" fill="#000"/><rect x="85.98" y="143.05" width="4.3" height="4.3" fill="#000"/><rect x="88.25" y="143.05" width="4.3" height="4.3" fill="#000"/><rect x="90.52" y="138" width="4.3" height="4.3" fill="#000"/><rect x="92.79" y="132.95" width="4.3" height="4.3" fill="#000"/><rect x="95.05" y="138" width="4.3" height="4.3" fill="#000"/><rect x="97.32" y="127.9" width="4.3" height="4.3" fill="#000"/><rect x="99.59" y="127.9" width="4.3" height="4.3" fill="#000"/><rect x="101.86" y="127.9" width="4.3" height="4.3" fill="#000"/><rect x="104.13" y="122.85" width="4.3" height="4.3" fill="#000"/><rect x="106.39" y="122.85" width="4.3" height="4.3" fill="#000"/><rect x="108.66" y="122.85" width="4.3" height="4.3" fill="#000"/><rect x="110.93" y="117.8" width="4.3" height="4.3" fill="#000"/><rect x="113.2" y="117.8" width="4.3" height="4.3" fill="#000"/><rect x="115.47" y="112.75" width="4.3" height="4.3" fill="#000"/><rect x="117.73" y="112.75" width="4.3" height="4.3" fill="#000"/><rect x="120" y="107.7" width="4.3" height="4.3" fill="#000"/><rect x="122.27" y="107.7" width="4.3" height="4.3" fill="#000"/><rect x="124.54" y="107.7" width="4.3" height="4.3" fill="#000"/><rect x="126.81" y="102.65" width="4.3" height="4.3" fill="#000"/><rect x="129.07" y="102.65" width="4.3" height="4.3" fill="#000"/><rect x="131.34" y="102.65" width="4.3" height="4.3" fill="#000"/><rect x="133.61" y="102.65" width="4.3" height="4.3" fill="#000"/><rect x="135.88" y="97.6" width="4.3" height="4.3" fill="#000"/><rect x="138.15" y="97.6" width="4.3" height="4.3" fill="#000"/><rect x="140.41" y="97.6" width="4.3" height="4.3" fill="#000"/><rect x="142.68" y="92.55" width="4.3" height="4.3" fill="#000"/><rect x="144.95" y="92.55" width="4.3" height="4.3" fill="#000"/><rect x="147.22" y="92.55" width="4.3" height="4.3" fill="#000"/><rect x="149.49" y="92.55" width="4.3" height="4.3" fill="#000"/><rect x="151.75" y="87.5" width="4.3" height="4.3" fill="#000"/><rect x="154.02" y="87.5" width="4.3" height="4.3" fill="#000"/><rect x="156.29" y="87.5" width="4.3" height="4.3" fill="#000"/><rect x="158.56" y="87.5" width="4.3" height="4.3" fill="#000"/><rect x="160.83" y="87.5" width="4.3" height="4.3" fill="#000"/><rect x="163.09" y="87.5" width="4.3" height="4.3" fill="#000"/><rect x="165.36" y="82.45" width="4.3" height="4.3" fill="#000"/><rect x="167.63" y="82.45" width="4.3" height="4.3" fill="#000"/><rect x="169.9" y="82.45" width="4.3" height="4.3" fill="#000"/><rect x="172.17" y="82.45" width="4.3" height="4.3" fill="#000"/><rect x="174.43" y="82.45" width="4.3" height="4.3" fill="#000"/><rect x="176.7" y="82.45" width="4.3" height="4.3" fill="#000"/><rect x="178.97" y="77.4" width="4.3" height="4.3" fill="#000"/><rect x="181.24" y="77.4" width="4.3" height="4.3" fill="#000"/><rect x="183.51" y="77.4" width="4.3" height="4.3" fill="#000"/><rect x="185.77" y="77.4" width="4.3" height="4.3" fill="#000"/><rect x="188.04" y="77.4" width="4.3" height="4.3" fill="#000"/><rect x="190.31" y="77.4" width="4.3" height="4.3" fill="#000"/><rect x="192.58" y="77.4" width="4.3" height="4.3" fill="#000"/><rect x="194.85" y="72.45" width="4.3" height="4.3" fill="#000"/><rect x="197.11" y="72.45" width="4.3" height="4.3" fill="#000"/><rect x="199.38" y="72.45" width="4.3" height="4.3" fill="#000"/><rect x="201.65" y="72.45" width="4.3" height="4.3" fill="#000"/><rect x="203.92" y="72.45" width="4.3" height="4.3" fill="#000"/><rect x="206.19" y="72.45" width="4.3" height="4.3" fill="#000"/><rect x="208.45" y="72.45" width="4.3" height="4.3" fill="#000"/><rect x="210.72" y="72.45" width="4.3" height="4.3" fill="#000"/><rect x="212.99" y="70.05" width="4.3" height="4.3" fill="#000"/><rect x="215.26" y="70.05" width="4.3" height="4.3" fill="#000"/><rect x="217.53" y="70.05" width="4.3" height="4.3" fill="#000"/><rect x="219.79" y="70.05" width="4.3" height="4.3" fill="#000"/><rect x="222.06" y="66.85" width="4.3" height="4.3" fill="#000"/><rect x="224.33" y="66.85" width="4.3" height="4.3" fill="#000"/><rect x="226.6" y="66.85" width="4.3" height="4.3" fill="#000"/><rect x="228.87" y="66.85" width="4.3" height="4.3" fill="#000"/><rect x="231.13" y="66.85" width="4.3" height="4.3" fill="#000"/><rect x="233.4" y="66.85" width="4.3" height="4.3" fill="#000"/><rect x="235.67" y="66.85" width="4.3" height="4.3" fill="#000"/><rect x="237.94" y="66.85" width="4.3" height="4.3" fill="#000"/><rect x="240.21" y="66.85" width="4.3" height="4.3" fill="#000"/><rect x="242.47" y="66.85" width="4.3" height="4.3" fill="#000"/><rect x="244.74" y="66.85" width="4.3" height="4.3" fill="#000"/><rect x="247.01" y="66.85" width="4.3" height="4.3" fill="#000"/><rect x="249.28" y="62.35" width="4.3" height="4.3" fill="#000"/><rect x="251.55" y="62.35" width="4.3" height="4.3" fill="#000"/><rect x="253.81" y="62.35" width="4.3" height="4.3" fill="#000"/><rect x="256.08" y="62.35" width="4.3" height="4.3" fill="#000"/><rect x="258.35" y="62.35" width="4.3" height="4.3" fill="#000"/></g>
<g><polygon points="31.25,208.1 36.15,208.1 33.7,203.5" fill="#000"/><polygon points="33.52,208.1 38.42,208.1 35.97,203.5" fill="#000"/><polygon points="35.79,208.1 40.69,208.1 38.24,203.5" fill="#000"/><polygon points="38.05,203.05 42.95,203.05 40.5,198.45" fill="#000"/><polygon points="40.32,198 45.22,198 42.77,193.4" fill="#000"/><polygon points="42.59,198 47.49,198 45.04,193.4" fill="#000"/><polygon points="44.86,192.95 49.76,192.95 47.31,188.35" fill="#000"/><polygon points="47.13,192.95 52.03,192.95 49.58,188.35" fill="#000"/><polygon points="49.39,187.9 54.29,187.9 51.84,183.3" fill="#000"/><polygon points="51.66,182.85 56.56,182.85 54.11,178.25" fill="#000"/><polygon points="53.93,182.85 58.83,182.85 56.38,178.25" fill="#000"/><polygon points="56.2,177.8 61.1,177.8 58.65,173.2" fill="#000"/><polygon points="58.47,172.75 63.37,172.75 60.92,168.15" fill="#000"/><polygon points="60.73,167.7 65.63,167.7 63.18,163.1" fill="#000"/><polygon points="63,167.7 67.9,167.7 65.45,163.1" fill="#000"/><polygon points="65.27,162.65 70.17,162.65 67.72,158.05" fill="#000"/><polygon points="67.54,157.6 72.44,157.6 69.99,153" fill="#000"/><polygon points="69.81,157.6 74.71,157.6 72.26,153" fill="#000"/><polygon points="72.07,152.55 76.97,152.55 74.52,147.95" fill="#000"/><polygon points="74.34,147.5 79.24,147.5 76.79,142.9" fill="#000"/><polygon points="76.61,142.45 81.51,142.45 79.06,137.85" fill="#000"/><polygon points="78.88,142.45 83.78,142.45 81.33,137.85" fill="#000"/><polygon points="81.15,137.4 86.05,137.4 83.6,132.8" fill="#000"/><polygon points="83.41,132.35 88.31,132.35 85.86,127.75" fill="#000"/><polygon points="85.68,132.35 90.58,132.35 88.13,127.75" fill="#000"/><polygon points="87.95,132.35 92.85,132.35 90.4,127.75" fill="#000"/><polygon points="90.22,127.3 95.12,127.3 92.67,122.7" fill="#000"/><polygon points="92.49,122.25 97.39,122.25 94.94,117.65" fill="#000"/><polygon points="94.75,122.25 99.65,122.25 97.2,117.65" fill="#000"/><polygon points="97.02,122.25 101.92,122.25 99.47,117.65" fill="#000"/><polygon points="99.29,117.2 104.19,117.2 101.74,112.6" fill="#000"/><polygon points="101.56,112.15 106.46,112.15 104.01,107.55" fill="#000"/><polygon points="103.83,112.15 108.73,112.15 106.28,107.55" fill="#000"/><polygon points="106.09,107.1 110.99,107.1 108.54,102.5" fill="#000"/><polygon points="108.36,107.1 113.26,107.1 110.81,102.5" fill="#000"/><polygon points="110.63,102.05 115.53,102.05 113.08,97.45" fill="#000"/><polygon points="112.9,102.05 117.8,102.05 115.35,97.45" fill="#000"/><polygon points="115.17,97 120.07,97 117.62,92.4" fill="#000"/><polygon points="117.43,91.95 122.33,91.95 119.88,87.35" fill="#000"/><polygon points="146.92,91.95 151.82,91.95 149.37,87.35" fill="#000"/><polygon points="149.19,91.95 154.09,91.95 151.64,87.35" fill="#000"/><polygon points="151.45,91.95 156.35,91.95 153.9,87.35" fill="#000"/><polygon points="153.72,86.9 158.62,86.9 156.17,82.3" fill="#000"/><polygon points="155.99,86.9 160.89,86.9 158.44,82.3" fill="#000"/><polygon points="158.26,86.9 163.16,86.9 160.71,82.3" fill="#000"/><polygon points="160.53,81.85 165.43,81.85 162.98,77.25" fill="#000"/><polygon points="162.79,81.85 167.69,81.85 165.24,77.25" fill="#000"/><polygon points="165.06,81.85 169.96,81.85 167.51,77.25" fill="#000"/><polygon points="167.33,76.8 172.23,76.8 169.78,72.2" fill="#000"/><polygon points="169.6,76.8 174.5,76.8 172.05,72.2" fill="#000"/><polygon points="171.87,76.8 176.77,76.8 174.32,72.2" fill="#000"/><polygon points="174.13,76.8 179.03,76.8 176.58,72.2" fill="#000"/><polygon points="176.4,76.8 181.3,76.8 178.85,72.2" fill="#000"/><polygon points="178.67,76.8 183.57,76.8 181.12,72.2" fill="#000"/><polygon points="180.94,76.8 185.84,76.8 183.39,72.2" fill="#000"/><polygon points="183.21,76.8 188.11,76.8 185.66,72.2" fill="#000"/><polygon points="192.28,46.7 197.18,46.7 194.73,42.1" fill="#000"/><polygon points="194.55,46.7 199.45,46.7 197,42.1" fill="#000"/><polygon points="196.81,46.7 201.71,46.7 199.26,42.1" fill="#000"/><polygon points="199.08,46.7 203.98,46.7 201.53,42.1" fill="#000"/><polygon points="201.35,46.7 206.25,46.7 203.8,42.1" fill="#000"/><polygon points="203.62,46.7 208.52,46.7 206.07,42.1" fill="#000"/><polygon points="205.89,46.7 210.79,46.7 208.34,42.1" fill="#000"/><polygon points="208.15,46.7 213.05,46.7 210.6,42.1" fill="#000"/><polygon points="210.42,46.7 215.32,46.7 212.87,42.1" fill="#000"/><polygon points="212.69,46.7 217.59,46.7 215.14,42.1" fill="#000"/><polygon points="214.96,46.7 219.86,46.7 217.41,42.1" fill="#000"/><polygon points="217.23,46.7 222.13,46.7 219.68,42.1" fill="#000"/><polygon points="219.49,46.7 224.39,46.7 221.94,42.1" fill="#000"/><polygon points="233.1,46.9 238,46.9 235.55,42.3" fill="#000"/><polygon points="235.37,46.9 240.27,46.9 237.82,42.3" fill="#000"/><polygon points="237.64,46.9 242.54,46.9 240.09,42.3" fill="#000"/><polygon points="239.91,46.9 244.81,46.9 242.36,42.3" fill="#000"/><polygon points="242.17,46.9 247.07,46.9 244.62,42.3" fill="#000"/><polygon points="244.44,46.9 249.34,46.9 246.89,42.3" fill="#000"/><polygon points="246.71,45.6 251.61,45.6 249.16,41" fill="#000"/><polygon points="248.98,45.6 253.88,45.6 251.43,41" fill="#000"/><polygon points="251.25,45.6 256.15,45.6 253.7,41" fill="#000"/><polygon points="253.51,45.6 258.41,45.6 255.96,41" fill="#000"/><polygon points="255.78,45.6 260.68,45.6 258.23,41" fill="#000"/><polygon points="258.05,45.6 262.95,45.6 260.5,41" fill="#000"/><polygon points="186.3,66.55 191.2,66.55 188.75,61.95" fill="#000"/><polygon points="223.3,56.05 228.2,56.05 225.75,51.45" fill="#000"/><polygon points="225.55,61.55 230.45,61.55 228,56.95" fill="#000"/></g>
<g><rect x="39.15" y="204.45" width="2.7" height="2.7" fill="#a8a8a8" stroke="#000" stroke-width="1.15"/><rect x="41.42" y="199.4" width="2.7" height="2.7" fill="#a8a8a8" stroke="#000" stroke-width="1.15"/><rect x="43.69" y="199.4" width="2.7" height="2.7" fill="#a8a8a8" stroke="#000" stroke-width="1.15"/><rect x="45.96" y="194.35" width="2.7" height="2.7" fill="#a8a8a8" stroke="#000" stroke-width="1.15"/><rect x="48.23" y="189.3" width="2.7" height="2.7" fill="#a8a8a8" stroke="#000" stroke-width="1.15"/><rect x="50.49" y="189.3" width="2.7" height="2.7" fill="#a8a8a8" stroke="#000" stroke-width="1.15"/><rect x="52.76" y="184.25" width="2.7" height="2.7" fill="#a8a8a8" stroke="#000" stroke-width="1.15"/><rect x="55.03" y="184.25" width="2.7" height="2.7" fill="#a8a8a8" stroke="#000" stroke-width="1.15"/><rect x="57.3" y="179.2" width="2.7" height="2.7" fill="#a8a8a8" stroke="#000" stroke-width="1.15"/><rect x="59.57" y="179.2" width="2.7" height="2.7" fill="#a8a8a8" stroke="#000" stroke-width="1.15"/><rect x="61.83" y="174.15" width="2.7" height="2.7" fill="#a8a8a8" stroke="#000" stroke-width="1.15"/><rect x="64.1" y="174.15" width="2.7" height="2.7" fill="#a8a8a8" stroke="#000" stroke-width="1.15"/><rect x="66.37" y="169.1" width="2.7" height="2.7" fill="#a8a8a8" stroke="#000" stroke-width="1.15"/><rect x="68.64" y="164.05" width="2.7" height="2.7" fill="#a8a8a8" stroke="#000" stroke-width="1.15"/><rect x="70.91" y="159" width="2.7" height="2.7" fill="#a8a8a8" stroke="#000" stroke-width="1.15"/><rect x="73.17" y="153.95" width="2.7" height="2.7" fill="#a8a8a8" stroke="#000" stroke-width="1.15"/><rect x="75.44" y="153.95" width="2.7" height="2.7" fill="#a8a8a8" stroke="#000" stroke-width="1.15"/><rect x="77.71" y="148.9" width="2.7" height="2.7" fill="#a8a8a8" stroke="#000" stroke-width="1.15"/><rect x="79.98" y="148.9" width="2.7" height="2.7" fill="#a8a8a8" stroke="#000" stroke-width="1.15"/><rect x="82.25" y="143.85" width="2.7" height="2.7" fill="#a8a8a8" stroke="#000" stroke-width="1.15"/><rect x="84.51" y="138.8" width="2.7" height="2.7" fill="#a8a8a8" stroke="#000" stroke-width="1.15"/><rect x="86.78" y="138.8" width="2.7" height="2.7" fill="#a8a8a8" stroke="#000" stroke-width="1.15"/><rect x="89.05" y="133.75" width="2.7" height="2.7" fill="#a8a8a8" stroke="#000" stroke-width="1.15"/><rect x="91.32" y="128.7" width="2.7" height="2.7" fill="#a8a8a8" stroke="#000" stroke-width="1.15"/><rect x="93.59" y="128.7" width="2.7" height="2.7" fill="#a8a8a8" stroke="#000" stroke-width="1.15"/><rect x="95.85" y="123.65" width="2.7" height="2.7" fill="#a8a8a8" stroke="#000" stroke-width="1.15"/><rect x="98.12" y="123.65" width="2.7" height="2.7" fill="#a8a8a8" stroke="#000" stroke-width="1.15"/><rect x="100.39" y="118.6" width="2.7" height="2.7" fill="#a8a8a8" stroke="#000" stroke-width="1.15"/><rect x="102.66" y="113.55" width="2.7" height="2.7" fill="#a8a8a8" stroke="#000" stroke-width="1.15"/><rect x="104.93" y="113.55" width="2.7" height="2.7" fill="#a8a8a8" stroke="#000" stroke-width="1.15"/><rect x="107.19" y="108.5" width="2.7" height="2.7" fill="#a8a8a8" stroke="#000" stroke-width="1.15"/><rect x="109.46" y="108.5" width="2.7" height="2.7" fill="#a8a8a8" stroke="#000" stroke-width="1.15"/><rect x="111.73" y="103.45" width="2.7" height="2.7" fill="#a8a8a8" stroke="#000" stroke-width="1.15"/><rect x="114" y="103.45" width="2.7" height="2.7" fill="#a8a8a8" stroke="#000" stroke-width="1.15"/><rect x="116.27" y="98.4" width="2.7" height="2.7" fill="#a8a8a8" stroke="#000" stroke-width="1.15"/><rect x="118.53" y="98.4" width="2.7" height="2.7" fill="#a8a8a8" stroke="#000" stroke-width="1.15"/><rect x="120.8" y="93.35" width="2.7" height="2.7" fill="#a8a8a8" stroke="#000" stroke-width="1.15"/><rect x="123.07" y="93.35" width="2.7" height="2.7" fill="#a8a8a8" stroke="#000" stroke-width="1.15"/><rect x="125.34" y="88.3" width="2.7" height="2.7" fill="#a8a8a8" stroke="#000" stroke-width="1.15"/><rect x="127.61" y="83.25" width="2.7" height="2.7" fill="#a8a8a8" stroke="#000" stroke-width="1.15"/><rect x="129.87" y="83.25" width="2.7" height="2.7" fill="#a8a8a8" stroke="#000" stroke-width="1.15"/><rect x="132.14" y="83.25" width="2.7" height="2.7" fill="#a8a8a8" stroke="#000" stroke-width="1.15"/><rect x="134.41" y="78.2" width="2.7" height="2.7" fill="#a8a8a8" stroke="#000" stroke-width="1.15"/><rect x="136.68" y="78.2" width="2.7" height="2.7" fill="#a8a8a8" stroke="#000" stroke-width="1.15"/><rect x="138.95" y="78.2" width="2.7" height="2.7" fill="#a8a8a8" stroke="#000" stroke-width="1.15"/><rect x="141.21" y="73.15" width="2.7" height="2.7" fill="#a8a8a8" stroke="#000" stroke-width="1.15"/><rect x="143.48" y="73.15" width="2.7" height="2.7" fill="#a8a8a8" stroke="#000" stroke-width="1.15"/><rect x="145.75" y="73.15" width="2.7" height="2.7" fill="#a8a8a8" stroke="#000" stroke-width="1.15"/><rect x="148.02" y="68.1" width="2.7" height="2.7" fill="#a8a8a8" stroke="#000" stroke-width="1.15"/><rect x="150.29" y="68.1" width="2.7" height="2.7" fill="#a8a8a8" stroke="#000" stroke-width="1.15"/><rect x="152.55" y="68.1" width="2.7" height="2.7" fill="#a8a8a8" stroke="#000" stroke-width="1.15"/><rect x="154.82" y="63.05" width="2.7" height="2.7" fill="#a8a8a8" stroke="#000" stroke-width="1.15"/><rect x="157.09" y="63.05" width="2.7" height="2.7" fill="#a8a8a8" stroke="#000" stroke-width="1.15"/><rect x="159.36" y="63.05" width="2.7" height="2.7" fill="#a8a8a8" stroke="#000" stroke-width="1.15"/><rect x="161.63" y="63.05" width="2.7" height="2.7" fill="#a8a8a8" stroke="#000" stroke-width="1.15"/><rect x="163.89" y="58" width="2.7" height="2.7" fill="#a8a8a8" stroke="#000" stroke-width="1.15"/><rect x="166.16" y="63.05" width="2.7" height="2.7" fill="#a8a8a8" stroke="#000" stroke-width="1.15"/><rect x="168.43" y="63.05" width="2.7" height="2.7" fill="#a8a8a8" stroke="#000" stroke-width="1.15"/><rect x="170.7" y="58" width="2.7" height="2.7" fill="#a8a8a8" stroke="#000" stroke-width="1.15"/><rect x="172.97" y="58" width="2.7" height="2.7" fill="#a8a8a8" stroke="#000" stroke-width="1.15"/><rect x="175.23" y="58" width="2.7" height="2.7" fill="#a8a8a8" stroke="#000" stroke-width="1.15"/><rect x="177.5" y="52.95" width="2.7" height="2.7" fill="#a8a8a8" stroke="#000" stroke-width="1.15"/><rect x="179.77" y="52.95" width="2.7" height="2.7" fill="#a8a8a8" stroke="#000" stroke-width="1.15"/><rect x="182.04" y="52.95" width="2.7" height="2.7" fill="#a8a8a8" stroke="#000" stroke-width="1.15"/><rect x="184.31" y="52.95" width="2.7" height="2.7" fill="#a8a8a8" stroke="#000" stroke-width="1.15"/><rect x="186.57" y="52.95" width="2.7" height="2.7" fill="#a8a8a8" stroke="#000" stroke-width="1.15"/><rect x="188.84" y="47.9" width="2.7" height="2.7" fill="#a8a8a8" stroke="#000" stroke-width="1.15"/><rect x="191.11" y="50.5" width="2.7" height="2.7" fill="#a8a8a8" stroke="#000" stroke-width="1.15"/><rect x="193.38" y="49.25" width="2.7" height="2.7" fill="#a8a8a8" stroke="#000" stroke-width="1.15"/><rect x="195.65" y="49.25" width="2.7" height="2.7" fill="#a8a8a8" stroke="#000" stroke-width="1.15"/><rect x="197.91" y="49.25" width="2.7" height="2.7" fill="#a8a8a8" stroke="#000" stroke-width="1.15"/><rect x="200.18" y="49.25" width="2.7" height="2.7" fill="#a8a8a8" stroke="#000" stroke-width="1.15"/><rect x="202.45" y="47.4" width="2.7" height="2.7" fill="#a8a8a8" stroke="#000" stroke-width="1.15"/><rect x="204.72" y="47.4" width="2.7" height="2.7" fill="#a8a8a8" stroke="#000" stroke-width="1.15"/><rect x="206.99" y="47.4" width="2.7" height="2.7" fill="#a8a8a8" stroke="#000" stroke-width="1.15"/><rect x="209.25" y="47.4" width="2.7" height="2.7" fill="#a8a8a8" stroke="#000" stroke-width="1.15"/><rect x="211.52" y="47.4" width="2.7" height="2.7" fill="#a8a8a8" stroke="#000" stroke-width="1.15"/><rect x="213.79" y="45.15" width="2.7" height="2.7" fill="#a8a8a8" stroke="#000" stroke-width="1.15"/><rect x="216.06" y="45.15" width="2.7" height="2.7" fill="#a8a8a8" stroke="#000" stroke-width="1.15"/><rect x="218.33" y="45.15" width="2.7" height="2.7" fill="#a8a8a8" stroke="#000" stroke-width="1.15"/><rect x="220.59" y="45.15" width="2.7" height="2.7" fill="#a8a8a8" stroke="#000" stroke-width="1.15"/><rect x="222.86" y="45.15" width="2.7" height="2.7" fill="#a8a8a8" stroke="#000" stroke-width="1.15"/><rect x="225.13" y="42.55" width="2.7" height="2.7" fill="#a8a8a8" stroke="#000" stroke-width="1.15"/><rect x="227.4" y="42.55" width="2.7" height="2.7" fill="#a8a8a8" stroke="#000" stroke-width="1.15"/><rect x="229.67" y="42.55" width="2.7" height="2.7" fill="#a8a8a8" stroke="#000" stroke-width="1.15"/><rect x="231.93" y="42.55" width="2.7" height="2.7" fill="#a8a8a8" stroke="#000" stroke-width="1.15"/><rect x="234.2" y="42.55" width="2.7" height="2.7" fill="#a8a8a8" stroke="#000" stroke-width="1.15"/><rect x="236.47" y="42.55" width="2.7" height="2.7" fill="#a8a8a8" stroke="#000" stroke-width="1.15"/><rect x="238.74" y="42.55" width="2.7" height="2.7" fill="#a8a8a8" stroke="#000" stroke-width="1.15"/><rect x="241.01" y="39.05" width="2.7" height="2.7" fill="#a8a8a8" stroke="#000" stroke-width="1.15"/><rect x="243.27" y="39.05" width="2.7" height="2.7" fill="#a8a8a8" stroke="#000" stroke-width="1.15"/><rect x="245.54" y="39.05" width="2.7" height="2.7" fill="#a8a8a8" stroke="#000" stroke-width="1.15"/><rect x="247.81" y="37.85" width="2.7" height="2.7" fill="#a8a8a8" stroke="#000" stroke-width="1.15"/><rect x="250.08" y="37.85" width="2.7" height="2.7" fill="#a8a8a8" stroke="#000" stroke-width="1.15"/><rect x="252.35" y="37.85" width="2.7" height="2.7" fill="#a8a8a8" stroke="#000" stroke-width="1.15"/><rect x="254.61" y="37.85" width="2.7" height="2.7" fill="#a8a8a8" stroke="#000" stroke-width="1.15"/><rect x="256.88" y="37.85" width="2.7" height="2.7" fill="#a8a8a8" stroke="#000" stroke-width="1.15"/><rect x="259.15" y="37.85" width="2.7" height="2.7" fill="#a8a8a8" stroke="#000" stroke-width="1.15"/></g>
<path d="M281 204.2 L283.36 204.2 L285.72 204.2 L288.08 204.2 L290.44 198.79 L292.8 198.79 L295.16 193.38 L297.52 187.97 L299.88 187.97 L302.24 182.56 L304.6 177.15 L306.96 177.15 L309.32 171.74 L311.68 166.33 L314.04 166.33 L316.4 160.92 L318.76 155.51 L321.12 150.1 L323.48 150.1 L325.84 150.1 L328.2 144.69 L330.56 139.28 L332.92 139.28 L335.28 139.28 L337.64 139.28 L340 133.87 L342.36 128.46 L344.72 128.46 L347.08 128.46 L349.44 123.05 L351.8 123.05 L354.16 123.05 L356.52 117.64 L358.88 117.64 L361.24 112.23 L363.6 112.23 L365.96 112.23 L368.32 112.23 L370.68 112.23 L373.04 106.82 L375.4 106.82 L377.76 106.82 L380.12 106.82 L382.48 106.82 L384.84 106.82 L387.2 106.82 L389.56 101.41 L391.92 101.41 L394.28 101.41 L396.64 101.41 L399 101.41 L401.36 101.41 L403.72 101.41 L406.08 101.41 L408.44 101.41 L410.8 101.41 L413.16 101.41 L415.52 101.41 L417.88 96 L420.24 96 L422.6 96 L424.96 96 L427.32 96 L429.68 96 L432.04 96 L434.4 96 L436.76 96 L439.12 96 L441.48 96 L443.84 96 L446.2 96 L448.56 96 L450.92 96 L453.28 96 L455.64 96 L458 90.59 L460.36 90.59 L462.72 90.59 L465.08 90.59 L467.44 90.59 L469.8 90.59 L472.16 90.59 L474.52 90.59 L476.88 90.59 L479.24 90.59 L481.6 90.59 L483.96 90.59" fill="none" stroke="#000" stroke-width="0.7"/>
<g><rect x="279.35" y="202.55" width="3.3" height="3.3" fill="#fff" stroke="#000" stroke-width="1.1"/><rect x="281.71" y="202.55" width="3.3" height="3.3" fill="#fff" stroke="#000" stroke-width="1.1"/><rect x="284.07" y="202.55" width="3.3" height="3.3" fill="#fff" stroke="#000" stroke-width="1.1"/><rect x="286.43" y="202.55" width="3.3" height="3.3" fill="#fff" stroke="#000" stroke-width="1.1"/><rect x="288.79" y="197.14" width="3.3" height="3.3" fill="#fff" stroke="#000" stroke-width="1.1"/><rect x="291.15" y="197.14" width="3.3" height="3.3" fill="#fff" stroke="#000" stroke-width="1.1"/><rect x="293.51" y="191.73" width="3.3" height="3.3" fill="#fff" stroke="#000" stroke-width="1.1"/><rect x="295.87" y="186.32" width="3.3" height="3.3" fill="#fff" stroke="#000" stroke-width="1.1"/><rect x="298.23" y="186.32" width="3.3" height="3.3" fill="#fff" stroke="#000" stroke-width="1.1"/><rect x="300.59" y="180.91" width="3.3" height="3.3" fill="#fff" stroke="#000" stroke-width="1.1"/><rect x="302.95" y="175.5" width="3.3" height="3.3" fill="#fff" stroke="#000" stroke-width="1.1"/><rect x="305.31" y="175.5" width="3.3" height="3.3" fill="#fff" stroke="#000" stroke-width="1.1"/><rect x="307.67" y="170.09" width="3.3" height="3.3" fill="#fff" stroke="#000" stroke-width="1.1"/><rect x="310.03" y="164.68" width="3.3" height="3.3" fill="#fff" stroke="#000" stroke-width="1.1"/><rect x="312.39" y="164.68" width="3.3" height="3.3" fill="#fff" stroke="#000" stroke-width="1.1"/><rect x="314.75" y="159.27" width="3.3" height="3.3" fill="#fff" stroke="#000" stroke-width="1.1"/><rect x="317.11" y="153.86" width="3.3" height="3.3" fill="#fff" stroke="#000" stroke-width="1.1"/><rect x="319.47" y="148.45" width="3.3" height="3.3" fill="#fff" stroke="#000" stroke-width="1.1"/><rect x="321.83" y="148.45" width="3.3" height="3.3" fill="#fff" stroke="#000" stroke-width="1.1"/><rect x="324.19" y="148.45" width="3.3" height="3.3" fill="#fff" stroke="#000" stroke-width="1.1"/><rect x="326.55" y="143.04" width="3.3" height="3.3" fill="#fff" stroke="#000" stroke-width="1.1"/><rect x="328.91" y="137.63" width="3.3" height="3.3" fill="#fff" stroke="#000" stroke-width="1.1"/><rect x="331.27" y="137.63" width="3.3" height="3.3" fill="#fff" stroke="#000" stroke-width="1.1"/><rect x="333.63" y="137.63" width="3.3" height="3.3" fill="#fff" stroke="#000" stroke-width="1.1"/><rect x="335.99" y="137.63" width="3.3" height="3.3" fill="#fff" stroke="#000" stroke-width="1.1"/><rect x="338.35" y="132.22" width="3.3" height="3.3" fill="#fff" stroke="#000" stroke-width="1.1"/><rect x="340.71" y="126.81" width="3.3" height="3.3" fill="#fff" stroke="#000" stroke-width="1.1"/><rect x="343.07" y="126.81" width="3.3" height="3.3" fill="#fff" stroke="#000" stroke-width="1.1"/><rect x="345.43" y="126.81" width="3.3" height="3.3" fill="#fff" stroke="#000" stroke-width="1.1"/><rect x="347.79" y="121.4" width="3.3" height="3.3" fill="#fff" stroke="#000" stroke-width="1.1"/><rect x="350.15" y="121.4" width="3.3" height="3.3" fill="#fff" stroke="#000" stroke-width="1.1"/><rect x="352.51" y="121.4" width="3.3" height="3.3" fill="#fff" stroke="#000" stroke-width="1.1"/><rect x="354.87" y="115.99" width="3.3" height="3.3" fill="#fff" stroke="#000" stroke-width="1.1"/><rect x="357.23" y="115.99" width="3.3" height="3.3" fill="#fff" stroke="#000" stroke-width="1.1"/><rect x="359.59" y="110.58" width="3.3" height="3.3" fill="#fff" stroke="#000" stroke-width="1.1"/><rect x="361.95" y="110.58" width="3.3" height="3.3" fill="#fff" stroke="#000" stroke-width="1.1"/><rect x="364.31" y="110.58" width="3.3" height="3.3" fill="#fff" stroke="#000" stroke-width="1.1"/><rect x="366.67" y="110.58" width="3.3" height="3.3" fill="#fff" stroke="#000" stroke-width="1.1"/><rect x="369.03" y="110.58" width="3.3" height="3.3" fill="#fff" stroke="#000" stroke-width="1.1"/><rect x="371.39" y="105.17" width="3.3" height="3.3" fill="#fff" stroke="#000" stroke-width="1.1"/><rect x="373.75" y="105.17" width="3.3" height="3.3" fill="#fff" stroke="#000" stroke-width="1.1"/><rect x="376.11" y="105.17" width="3.3" height="3.3" fill="#fff" stroke="#000" stroke-width="1.1"/><rect x="378.47" y="105.17" width="3.3" height="3.3" fill="#fff" stroke="#000" stroke-width="1.1"/><rect x="380.83" y="105.17" width="3.3" height="3.3" fill="#fff" stroke="#000" stroke-width="1.1"/><rect x="383.19" y="105.17" width="3.3" height="3.3" fill="#fff" stroke="#000" stroke-width="1.1"/><rect x="385.55" y="105.17" width="3.3" height="3.3" fill="#fff" stroke="#000" stroke-width="1.1"/><rect x="387.91" y="99.76" width="3.3" height="3.3" fill="#fff" stroke="#000" stroke-width="1.1"/><rect x="390.27" y="99.76" width="3.3" height="3.3" fill="#fff" stroke="#000" stroke-width="1.1"/><rect x="392.63" y="99.76" width="3.3" height="3.3" fill="#fff" stroke="#000" stroke-width="1.1"/><rect x="394.99" y="99.76" width="3.3" height="3.3" fill="#fff" stroke="#000" stroke-width="1.1"/><rect x="397.35" y="99.76" width="3.3" height="3.3" fill="#fff" stroke="#000" stroke-width="1.1"/><rect x="399.71" y="99.76" width="3.3" height="3.3" fill="#fff" stroke="#000" stroke-width="1.1"/><rect x="402.07" y="99.76" width="3.3" height="3.3" fill="#fff" stroke="#000" stroke-width="1.1"/><rect x="404.43" y="99.76" width="3.3" height="3.3" fill="#fff" stroke="#000" stroke-width="1.1"/><rect x="406.79" y="99.76" width="3.3" height="3.3" fill="#fff" stroke="#000" stroke-width="1.1"/><rect x="409.15" y="99.76" width="3.3" height="3.3" fill="#fff" stroke="#000" stroke-width="1.1"/><rect x="411.51" y="99.76" width="3.3" height="3.3" fill="#fff" stroke="#000" stroke-width="1.1"/><rect x="413.87" y="99.76" width="3.3" height="3.3" fill="#fff" stroke="#000" stroke-width="1.1"/><rect x="416.23" y="94.35" width="3.3" height="3.3" fill="#fff" stroke="#000" stroke-width="1.1"/><rect x="418.59" y="94.35" width="3.3" height="3.3" fill="#fff" stroke="#000" stroke-width="1.1"/><rect x="420.95" y="94.35" width="3.3" height="3.3" fill="#fff" stroke="#000" stroke-width="1.1"/><rect x="423.31" y="94.35" width="3.3" height="3.3" fill="#fff" stroke="#000" stroke-width="1.1"/><rect x="425.67" y="94.35" width="3.3" height="3.3" fill="#fff" stroke="#000" stroke-width="1.1"/><rect x="428.03" y="94.35" width="3.3" height="3.3" fill="#fff" stroke="#000" stroke-width="1.1"/><rect x="430.39" y="94.35" width="3.3" height="3.3" fill="#fff" stroke="#000" stroke-width="1.1"/><rect x="432.75" y="94.35" width="3.3" height="3.3" fill="#fff" stroke="#000" stroke-width="1.1"/><rect x="435.11" y="94.35" width="3.3" height="3.3" fill="#fff" stroke="#000" stroke-width="1.1"/><rect x="437.47" y="94.35" width="3.3" height="3.3" fill="#fff" stroke="#000" stroke-width="1.1"/><rect x="439.83" y="94.35" width="3.3" height="3.3" fill="#fff" stroke="#000" stroke-width="1.1"/><rect x="442.19" y="94.35" width="3.3" height="3.3" fill="#fff" stroke="#000" stroke-width="1.1"/><rect x="444.55" y="94.35" width="3.3" height="3.3" fill="#fff" stroke="#000" stroke-width="1.1"/><rect x="446.91" y="94.35" width="3.3" height="3.3" fill="#fff" stroke="#000" stroke-width="1.1"/><rect x="449.27" y="94.35" width="3.3" height="3.3" fill="#fff" stroke="#000" stroke-width="1.1"/><rect x="451.63" y="94.35" width="3.3" height="3.3" fill="#fff" stroke="#000" stroke-width="1.1"/><rect x="453.99" y="94.35" width="3.3" height="3.3" fill="#fff" stroke="#000" stroke-width="1.1"/><rect x="456.35" y="88.94" width="3.3" height="3.3" fill="#fff" stroke="#000" stroke-width="1.1"/><rect x="458.71" y="88.94" width="3.3" height="3.3" fill="#fff" stroke="#000" stroke-width="1.1"/><rect x="461.07" y="88.94" width="3.3" height="3.3" fill="#fff" stroke="#000" stroke-width="1.1"/><rect x="463.43" y="88.94" width="3.3" height="3.3" fill="#fff" stroke="#000" stroke-width="1.1"/><rect x="465.79" y="88.94" width="3.3" height="3.3" fill="#fff" stroke="#000" stroke-width="1.1"/><rect x="468.15" y="88.94" width="3.3" height="3.3" fill="#fff" stroke="#000" stroke-width="1.1"/><rect x="470.51" y="88.94" width="3.3" height="3.3" fill="#fff" stroke="#000" stroke-width="1.1"/><rect x="472.87" y="88.94" width="3.3" height="3.3" fill="#fff" stroke="#000" stroke-width="1.1"/><rect x="475.23" y="88.94" width="3.3" height="3.3" fill="#fff" stroke="#000" stroke-width="1.1"/><rect x="477.59" y="88.94" width="3.3" height="3.3" fill="#fff" stroke="#000" stroke-width="1.1"/><rect x="479.95" y="88.94" width="3.3" height="3.3" fill="#fff" stroke="#000" stroke-width="1.1"/><rect x="482.31" y="88.94" width="3.3" height="3.3" fill="#fff" stroke="#000" stroke-width="1.1"/></g>
<path d="M281 203.9 L283.36 203.9 L285.72 203.9 L288.08 203.9 L290.44 203.9 L292.8 203.9 L295.16 203.9 L297.52 203.9 L299.88 198.47 L302.24 198.47 L304.6 198.47 L306.96 198.47 L309.32 193.04 L311.68 193.04 L314.04 193.04 L316.4 193.04 L318.76 193.04 L321.12 193.04 L323.48 187.61 L325.84 187.61 L328.2 187.61 L330.56 187.61 L332.92 187.61 L335.28 182.18 L337.64 182.18 L340 182.18 L342.36 182.18 L344.72 182.18 L347.08 176.75 L349.44 176.75 L351.8 176.75 L354.16 176.75 L356.52 176.75 L358.88 176.75 L361.24 171.32 L363.6 171.32 L365.96 171.32 L368.32 171.32 L370.68 171.32 L373.04 171.32 L375.4 171.32 L377.76 171.32 L380.12 171.32 L382.48 171.32 L384.84 165.89 L387.2 165.89 L389.56 165.89 L391.92 165.89 L394.28 165.89 L396.64 165.89 L399 165.89 L401.36 165.89 L403.72 165.89 L406.08 165.89 L408.44 165.89 L410.8 165.89 L413.16 165.89 L415.52 165.89 L417.88 165.89 L420.24 160.46 L422.6 160.46 L424.96 160.46 L427.32 160.46 L429.68 160.46 L432.04 160.46 L434.4 160.46 L436.76 160.46 L439.12 160.46 L441.48 160.46 L443.84 160.46 L446.2 155.03 L448.56 155.03 L450.92 155.03 L453.28 155.03 L455.64 155.03 L458 155.03 L460.36 155.03 L462.72 155.03 L465.08 155.03 L467.44 155.03 L469.8 155.03 L472.16 155.03 L474.52 155.03 L476.88 155.03 L479.24 155.03 L481.6 155.03 L483.96 155.03" fill="none" stroke="#000" stroke-width="0.5"/>
<g><circle cx="281" cy="203.9" r="1.55" fill="#fff" stroke="#000" stroke-width="1.25"/><circle cx="283.36" cy="203.9" r="1.55" fill="#fff" stroke="#000" stroke-width="1.25"/><circle cx="285.72" cy="203.9" r="1.55" fill="#fff" stroke="#000" stroke-width="1.25"/><circle cx="288.08" cy="203.9" r="1.55" fill="#fff" stroke="#000" stroke-width="1.25"/><circle cx="290.44" cy="203.9" r="1.55" fill="#fff" stroke="#000" stroke-width="1.25"/><circle cx="292.8" cy="203.9" r="1.55" fill="#fff" stroke="#000" stroke-width="1.25"/><circle cx="295.16" cy="203.9" r="1.55" fill="#fff" stroke="#000" stroke-width="1.25"/><circle cx="297.52" cy="203.9" r="1.55" fill="#fff" stroke="#000" stroke-width="1.25"/><circle cx="299.88" cy="198.47" r="1.55" fill="#fff" stroke="#000" stroke-width="1.25"/><circle cx="302.24" cy="198.47" r="1.55" fill="#fff" stroke="#000" stroke-width="1.25"/><circle cx="304.6" cy="198.47" r="1.55" fill="#fff" stroke="#000" stroke-width="1.25"/><circle cx="306.96" cy="198.47" r="1.55" fill="#fff" stroke="#000" stroke-width="1.25"/><circle cx="309.32" cy="193.04" r="1.55" fill="#fff" stroke="#000" stroke-width="1.25"/><circle cx="311.68" cy="193.04" r="1.55" fill="#fff" stroke="#000" stroke-width="1.25"/><circle cx="314.04" cy="193.04" r="1.55" fill="#fff" stroke="#000" stroke-width="1.25"/><circle cx="316.4" cy="193.04" r="1.55" fill="#fff" stroke="#000" stroke-width="1.25"/><circle cx="318.76" cy="193.04" r="1.55" fill="#fff" stroke="#000" stroke-width="1.25"/><circle cx="321.12" cy="193.04" r="1.55" fill="#fff" stroke="#000" stroke-width="1.25"/><circle cx="323.48" cy="187.61" r="1.55" fill="#fff" stroke="#000" stroke-width="1.25"/><circle cx="325.84" cy="187.61" r="1.55" fill="#fff" stroke="#000" stroke-width="1.25"/><circle cx="328.2" cy="187.61" r="1.55" fill="#fff" stroke="#000" stroke-width="1.25"/><circle cx="330.56" cy="187.61" r="1.55" fill="#fff" stroke="#000" stroke-width="1.25"/><circle cx="332.92" cy="187.61" r="1.55" fill="#fff" stroke="#000" stroke-width="1.25"/><circle cx="335.28" cy="182.18" r="1.55" fill="#fff" stroke="#000" stroke-width="1.25"/><circle cx="337.64" cy="182.18" r="1.55" fill="#fff" stroke="#000" stroke-width="1.25"/><circle cx="340" cy="182.18" r="1.55" fill="#fff" stroke="#000" stroke-width="1.25"/><circle cx="342.36" cy="182.18" r="1.55" fill="#fff" stroke="#000" stroke-width="1.25"/><circle cx="344.72" cy="182.18" r="1.55" fill="#fff" stroke="#000" stroke-width="1.25"/><circle cx="347.08" cy="176.75" r="1.55" fill="#fff" stroke="#000" stroke-width="1.25"/><circle cx="349.44" cy="176.75" r="1.55" fill="#fff" stroke="#000" stroke-width="1.25"/><circle cx="351.8" cy="176.75" r="1.55" fill="#fff" stroke="#000" stroke-width="1.25"/><circle cx="354.16" cy="176.75" r="1.55" fill="#fff" stroke="#000" stroke-width="1.25"/><circle cx="356.52" cy="176.75" r="1.55" fill="#fff" stroke="#000" stroke-width="1.25"/><circle cx="358.88" cy="176.75" r="1.55" fill="#fff" stroke="#000" stroke-width="1.25"/><circle cx="361.24" cy="171.32" r="1.55" fill="#fff" stroke="#000" stroke-width="1.25"/><circle cx="363.6" cy="171.32" r="1.55" fill="#fff" stroke="#000" stroke-width="1.25"/><circle cx="365.96" cy="171.32" r="1.55" fill="#fff" stroke="#000" stroke-width="1.25"/><circle cx="368.32" cy="171.32" r="1.55" fill="#fff" stroke="#000" stroke-width="1.25"/><circle cx="370.68" cy="171.32" r="1.55" fill="#fff" stroke="#000" stroke-width="1.25"/><circle cx="373.04" cy="171.32" r="1.55" fill="#fff" stroke="#000" stroke-width="1.25"/><circle cx="375.4" cy="171.32" r="1.55" fill="#fff" stroke="#000" stroke-width="1.25"/><circle cx="377.76" cy="171.32" r="1.55" fill="#fff" stroke="#000" stroke-width="1.25"/><circle cx="380.12" cy="171.32" r="1.55" fill="#fff" stroke="#000" stroke-width="1.25"/><circle cx="382.48" cy="171.32" r="1.55" fill="#fff" stroke="#000" stroke-width="1.25"/><circle cx="384.84" cy="165.89" r="1.55" fill="#fff" stroke="#000" stroke-width="1.25"/><circle cx="387.2" cy="165.89" r="1.55" fill="#fff" stroke="#000" stroke-width="1.25"/><circle cx="389.56" cy="165.89" r="1.55" fill="#fff" stroke="#000" stroke-width="1.25"/><circle cx="391.92" cy="165.89" r="1.55" fill="#fff" stroke="#000" stroke-width="1.25"/><circle cx="394.28" cy="165.89" r="1.55" fill="#fff" stroke="#000" stroke-width="1.25"/><circle cx="396.64" cy="165.89" r="1.55" fill="#fff" stroke="#000" stroke-width="1.25"/><circle cx="399" cy="165.89" r="1.55" fill="#fff" stroke="#000" stroke-width="1.25"/><circle cx="401.36" cy="165.89" r="1.55" fill="#fff" stroke="#000" stroke-width="1.25"/><circle cx="403.72" cy="165.89" r="1.55" fill="#fff" stroke="#000" stroke-width="1.25"/><circle cx="406.08" cy="165.89" r="1.55" fill="#fff" stroke="#000" stroke-width="1.25"/><circle cx="408.44" cy="165.89" r="1.55" fill="#fff" stroke="#000" stroke-width="1.25"/><circle cx="410.8" cy="165.89" r="1.55" fill="#fff" stroke="#000" stroke-width="1.25"/><circle cx="413.16" cy="165.89" r="1.55" fill="#fff" stroke="#000" stroke-width="1.25"/><circle cx="415.52" cy="165.89" r="1.55" fill="#fff" stroke="#000" stroke-width="1.25"/><circle cx="417.88" cy="165.89" r="1.55" fill="#fff" stroke="#000" stroke-width="1.25"/><circle cx="420.24" cy="160.46" r="1.55" fill="#fff" stroke="#000" stroke-width="1.25"/><circle cx="422.6" cy="160.46" r="1.55" fill="#fff" stroke="#000" stroke-width="1.25"/><circle cx="424.96" cy="160.46" r="1.55" fill="#fff" stroke="#000" stroke-width="1.25"/><circle cx="427.32" cy="160.46" r="1.55" fill="#fff" stroke="#000" stroke-width="1.25"/><circle cx="429.68" cy="160.46" r="1.55" fill="#fff" stroke="#000" stroke-width="1.25"/><circle cx="432.04" cy="160.46" r="1.55" fill="#fff" stroke="#000" stroke-width="1.25"/><circle cx="434.4" cy="160.46" r="1.55" fill="#fff" stroke="#000" stroke-width="1.25"/><circle cx="436.76" cy="160.46" r="1.55" fill="#fff" stroke="#000" stroke-width="1.25"/><circle cx="439.12" cy="160.46" r="1.55" fill="#fff" stroke="#000" stroke-width="1.25"/><circle cx="441.48" cy="160.46" r="1.55" fill="#fff" stroke="#000" stroke-width="1.25"/><circle cx="443.84" cy="160.46" r="1.55" fill="#fff" stroke="#000" stroke-width="1.25"/><circle cx="446.2" cy="155.03" r="1.55" fill="#fff" stroke="#000" stroke-width="1.25"/><circle cx="448.56" cy="155.03" r="1.55" fill="#fff" stroke="#000" stroke-width="1.25"/><circle cx="450.92" cy="155.03" r="1.55" fill="#fff" stroke="#000" stroke-width="1.25"/><circle cx="453.28" cy="155.03" r="1.55" fill="#fff" stroke="#000" stroke-width="1.25"/><circle cx="455.64" cy="155.03" r="1.55" fill="#fff" stroke="#000" stroke-width="1.25"/><circle cx="458" cy="155.03" r="1.55" fill="#fff" stroke="#000" stroke-width="1.25"/><circle cx="460.36" cy="155.03" r="1.55" fill="#fff" stroke="#000" stroke-width="1.25"/><circle cx="462.72" cy="155.03" r="1.55" fill="#fff" stroke="#000" stroke-width="1.25"/><circle cx="465.08" cy="155.03" r="1.55" fill="#fff" stroke="#000" stroke-width="1.25"/><circle cx="467.44" cy="155.03" r="1.55" fill="#fff" stroke="#000" stroke-width="1.25"/><circle cx="469.8" cy="155.03" r="1.55" fill="#fff" stroke="#000" stroke-width="1.25"/><circle cx="472.16" cy="155.03" r="1.55" fill="#fff" stroke="#000" stroke-width="1.25"/><circle cx="474.52" cy="155.03" r="1.55" fill="#fff" stroke="#000" stroke-width="1.25"/><circle cx="476.88" cy="155.03" r="1.55" fill="#fff" stroke="#000" stroke-width="1.25"/><circle cx="479.24" cy="155.03" r="1.55" fill="#fff" stroke="#000" stroke-width="1.25"/><circle cx="481.6" cy="155.03" r="1.55" fill="#fff" stroke="#000" stroke-width="1.25"/><circle cx="483.96" cy="155.03" r="1.55" fill="#fff" stroke="#000" stroke-width="1.25"/></g>
<path d="M281 203.3 L283.36 203.3 L285.72 203.3 L288.08 197.89 L290.44 197.89 L292.8 197.89 L295.16 197.89 L297.52 192.48 L299.88 192.48 L302.24 192.48 L304.6 187.07 L306.96 187.07 L309.32 187.07 L311.68 187.07 L314.04 181.66 L316.4 176.25 L318.76 176.25 L321.12 176.25 L323.48 170.84 L325.84 170.84 L328.2 165.43 L330.56 165.43 L332.92 165.43 L335.28 160.02 L337.64 160.02 L340 154.61 L342.36 154.61 L344.72 149.2 L347.08 149.2 L349.44 149.2 L351.8 149.2 L354.16 149.2 L356.52 149.2 L358.88 149.2 L361.24 143.79 L363.6 143.79 L365.96 143.79 L368.32 143.79 L370.68 143.79 L373.04 143.79 L375.4 143.79 L377.76 143.79 L380.12 138.38 L382.48 138.38 L384.84 138.38 L387.2 138.38 L389.56 138.38 L391.92 138.38 L394.28 138.38 L396.64 138.38 L399 138.38 L401.36 132.97 L403.72 132.97 L406.08 132.97 L408.44 132.97 L410.8 132.97 L413.16 132.97 L415.52 132.97 L417.88 132.97 L420.24 132.97 L422.6 132.97 L424.96 132.97 L427.32 132.97 L429.68 132.97 L432.04 127.56 L434.4 127.56 L436.76 127.56 L439.12 127.56 L441.48 127.56 L443.84 127.56 L446.2 127.56 L448.56 127.56 L450.92 127.56 L453.28 127.56 L455.64 127.56 L458 127.56 L460.36 127.56 L462.72 127.56 L465.08 122.15 L467.44 122.15 L469.8 122.15 L472.16 122.15 L474.52 122.15 L476.88 122.15 L479.24 122.15 L481.6 122.15 L483.96 122.15" fill="none" stroke="#000" stroke-width="0.5"/>
<g><polygon points="279,205.2 283,205.2 281,201.4" fill="#fff" stroke="#000" stroke-width="0.7"/><polygon points="281.36,205.2 285.36,205.2 283.36,201.4" fill="#fff" stroke="#000" stroke-width="0.7"/><polygon points="283.72,205.2 287.72,205.2 285.72,201.4" fill="#fff" stroke="#000" stroke-width="0.7"/><polygon points="286.08,199.79 290.08,199.79 288.08,195.99" fill="#fff" stroke="#000" stroke-width="0.7"/><polygon points="288.44,199.79 292.44,199.79 290.44,195.99" fill="#fff" stroke="#000" stroke-width="0.7"/><polygon points="290.8,199.79 294.8,199.79 292.8,195.99" fill="#fff" stroke="#000" stroke-width="0.7"/><polygon points="293.16,199.79 297.16,199.79 295.16,195.99" fill="#fff" stroke="#000" stroke-width="0.7"/><polygon points="295.52,194.38 299.52,194.38 297.52,190.58" fill="#fff" stroke="#000" stroke-width="0.7"/><polygon points="297.88,194.38 301.88,194.38 299.88,190.58" fill="#fff" stroke="#000" stroke-width="0.7"/><polygon points="300.24,194.38 304.24,194.38 302.24,190.58" fill="#fff" stroke="#000" stroke-width="0.7"/><polygon points="302.6,188.97 306.6,188.97 304.6,185.17" fill="#fff" stroke="#000" stroke-width="0.7"/><polygon points="304.96,188.97 308.96,188.97 306.96,185.17" fill="#fff" stroke="#000" stroke-width="0.7"/><polygon points="307.32,188.97 311.32,188.97 309.32,185.17" fill="#fff" stroke="#000" stroke-width="0.7"/><polygon points="309.68,188.97 313.68,188.97 311.68,185.17" fill="#fff" stroke="#000" stroke-width="0.7"/><polygon points="312.04,183.56 316.04,183.56 314.04,179.76" fill="#fff" stroke="#000" stroke-width="0.7"/><polygon points="314.4,178.15 318.4,178.15 316.4,174.35" fill="#fff" stroke="#000" stroke-width="0.7"/><polygon points="316.76,178.15 320.76,178.15 318.76,174.35" fill="#fff" stroke="#000" stroke-width="0.7"/><polygon points="319.12,178.15 323.12,178.15 321.12,174.35" fill="#fff" stroke="#000" stroke-width="0.7"/><polygon points="321.48,172.74 325.48,172.74 323.48,168.94" fill="#fff" stroke="#000" stroke-width="0.7"/><polygon points="323.84,172.74 327.84,172.74 325.84,168.94" fill="#fff" stroke="#000" stroke-width="0.7"/><polygon points="326.2,167.33 330.2,167.33 328.2,163.53" fill="#fff" stroke="#000" stroke-width="0.7"/><polygon points="328.56,167.33 332.56,167.33 330.56,163.53" fill="#fff" stroke="#000" stroke-width="0.7"/><polygon points="330.92,167.33 334.92,167.33 332.92,163.53" fill="#fff" stroke="#000" stroke-width="0.7"/><polygon points="333.28,161.92 337.28,161.92 335.28,158.12" fill="#fff" stroke="#000" stroke-width="0.7"/><polygon points="335.64,161.92 339.64,161.92 337.64,158.12" fill="#fff" stroke="#000" stroke-width="0.7"/><polygon points="338,156.51 342,156.51 340,152.71" fill="#fff" stroke="#000" stroke-width="0.7"/><polygon points="340.36,156.51 344.36,156.51 342.36,152.71" fill="#fff" stroke="#000" stroke-width="0.7"/><polygon points="342.72,151.1 346.72,151.1 344.72,147.3" fill="#fff" stroke="#000" stroke-width="0.7"/><polygon points="345.08,151.1 349.08,151.1 347.08,147.3" fill="#fff" stroke="#000" stroke-width="0.7"/><polygon points="347.44,151.1 351.44,151.1 349.44,147.3" fill="#fff" stroke="#000" stroke-width="0.7"/><polygon points="349.8,151.1 353.8,151.1 351.8,147.3" fill="#fff" stroke="#000" stroke-width="0.7"/><polygon points="352.16,151.1 356.16,151.1 354.16,147.3" fill="#fff" stroke="#000" stroke-width="0.7"/><polygon points="354.52,151.1 358.52,151.1 356.52,147.3" fill="#fff" stroke="#000" stroke-width="0.7"/><polygon points="356.88,151.1 360.88,151.1 358.88,147.3" fill="#fff" stroke="#000" stroke-width="0.7"/><polygon points="359.24,145.69 363.24,145.69 361.24,141.89" fill="#fff" stroke="#000" stroke-width="0.7"/><polygon points="361.6,145.69 365.6,145.69 363.6,141.89" fill="#fff" stroke="#000" stroke-width="0.7"/><polygon points="363.96,145.69 367.96,145.69 365.96,141.89" fill="#fff" stroke="#000" stroke-width="0.7"/><polygon points="366.32,145.69 370.32,145.69 368.32,141.89" fill="#fff" stroke="#000" stroke-width="0.7"/><polygon points="368.68,145.69 372.68,145.69 370.68,141.89" fill="#fff" stroke="#000" stroke-width="0.7"/><polygon points="371.04,145.69 375.04,145.69 373.04,141.89" fill="#fff" stroke="#000" stroke-width="0.7"/><polygon points="373.4,145.69 377.4,145.69 375.4,141.89" fill="#fff" stroke="#000" stroke-width="0.7"/><polygon points="375.76,145.69 379.76,145.69 377.76,141.89" fill="#fff" stroke="#000" stroke-width="0.7"/><polygon points="378.12,140.28 382.12,140.28 380.12,136.48" fill="#fff" stroke="#000" stroke-width="0.7"/><polygon points="380.48,140.28 384.48,140.28 382.48,136.48" fill="#fff" stroke="#000" stroke-width="0.7"/><polygon points="382.84,140.28 386.84,140.28 384.84,136.48" fill="#fff" stroke="#000" stroke-width="0.7"/><polygon points="385.2,140.28 389.2,140.28 387.2,136.48" fill="#fff" stroke="#000" stroke-width="0.7"/><polygon points="387.56,140.28 391.56,140.28 389.56,136.48" fill="#fff" stroke="#000" stroke-width="0.7"/><polygon points="389.92,140.28 393.92,140.28 391.92,136.48" fill="#fff" stroke="#000" stroke-width="0.7"/><polygon points="392.28,140.28 396.28,140.28 394.28,136.48" fill="#fff" stroke="#000" stroke-width="0.7"/><polygon points="394.64,140.28 398.64,140.28 396.64,136.48" fill="#fff" stroke="#000" stroke-width="0.7"/><polygon points="397,140.28 401,140.28 399,136.48" fill="#fff" stroke="#000" stroke-width="0.7"/><polygon points="399.36,134.87 403.36,134.87 401.36,131.07" fill="#fff" stroke="#000" stroke-width="0.7"/><polygon points="401.72,134.87 405.72,134.87 403.72,131.07" fill="#fff" stroke="#000" stroke-width="0.7"/><polygon points="404.08,134.87 408.08,134.87 406.08,131.07" fill="#fff" stroke="#000" stroke-width="0.7"/><polygon points="406.44,134.87 410.44,134.87 408.44,131.07" fill="#fff" stroke="#000" stroke-width="0.7"/><polygon points="408.8,134.87 412.8,134.87 410.8,131.07" fill="#fff" stroke="#000" stroke-width="0.7"/><polygon points="411.16,134.87 415.16,134.87 413.16,131.07" fill="#fff" stroke="#000" stroke-width="0.7"/><polygon points="413.52,134.87 417.52,134.87 415.52,131.07" fill="#fff" stroke="#000" stroke-width="0.7"/><polygon points="415.88,134.87 419.88,134.87 417.88,131.07" fill="#fff" stroke="#000" stroke-width="0.7"/><polygon points="418.24,134.87 422.24,134.87 420.24,131.07" fill="#fff" stroke="#000" stroke-width="0.7"/><polygon points="420.6,134.87 424.6,134.87 422.6,131.07" fill="#fff" stroke="#000" stroke-width="0.7"/><polygon points="422.96,134.87 426.96,134.87 424.96,131.07" fill="#fff" stroke="#000" stroke-width="0.7"/><polygon points="425.32,134.87 429.32,134.87 427.32,131.07" fill="#fff" stroke="#000" stroke-width="0.7"/><polygon points="427.68,134.87 431.68,134.87 429.68,131.07" fill="#fff" stroke="#000" stroke-width="0.7"/><polygon points="430.04,129.46 434.04,129.46 432.04,125.66" fill="#fff" stroke="#000" stroke-width="0.7"/><polygon points="432.4,129.46 436.4,129.46 434.4,125.66" fill="#fff" stroke="#000" stroke-width="0.7"/><polygon points="434.76,129.46 438.76,129.46 436.76,125.66" fill="#fff" stroke="#000" stroke-width="0.7"/><polygon points="437.12,129.46 441.12,129.46 439.12,125.66" fill="#fff" stroke="#000" stroke-width="0.7"/><polygon points="439.48,129.46 443.48,129.46 441.48,125.66" fill="#fff" stroke="#000" stroke-width="0.7"/><polygon points="441.84,129.46 445.84,129.46 443.84,125.66" fill="#fff" stroke="#000" stroke-width="0.7"/><polygon points="444.2,129.46 448.2,129.46 446.2,125.66" fill="#fff" stroke="#000" stroke-width="0.7"/><polygon points="446.56,129.46 450.56,129.46 448.56,125.66" fill="#fff" stroke="#000" stroke-width="0.7"/><polygon points="448.92,129.46 452.92,129.46 450.92,125.66" fill="#fff" stroke="#000" stroke-width="0.7"/><polygon points="451.28,129.46 455.28,129.46 453.28,125.66" fill="#fff" stroke="#000" stroke-width="0.7"/><polygon points="453.64,129.46 457.64,129.46 455.64,125.66" fill="#fff" stroke="#000" stroke-width="0.7"/><polygon points="456,129.46 460,129.46 458,125.66" fill="#fff" stroke="#000" stroke-width="0.7"/><polygon points="458.36,129.46 462.36,129.46 460.36,125.66" fill="#fff" stroke="#000" stroke-width="0.7"/><polygon points="460.72,129.46 464.72,129.46 462.72,125.66" fill="#fff" stroke="#000" stroke-width="0.7"/><polygon points="463.08,124.05 467.08,124.05 465.08,120.25" fill="#fff" stroke="#000" stroke-width="0.7"/><polygon points="465.44,124.05 469.44,124.05 467.44,120.25" fill="#fff" stroke="#000" stroke-width="0.7"/><polygon points="467.8,124.05 471.8,124.05 469.8,120.25" fill="#fff" stroke="#000" stroke-width="0.7"/><polygon points="470.16,124.05 474.16,124.05 472.16,120.25" fill="#fff" stroke="#000" stroke-width="0.7"/><polygon points="472.52,124.05 476.52,124.05 474.52,120.25" fill="#fff" stroke="#000" stroke-width="0.7"/><polygon points="474.88,124.05 478.88,124.05 476.88,120.25" fill="#fff" stroke="#000" stroke-width="0.7"/><polygon points="477.24,124.05 481.24,124.05 479.24,120.25" fill="#fff" stroke="#000" stroke-width="0.7"/><polygon points="479.6,124.05 483.6,124.05 481.6,120.25" fill="#fff" stroke="#000" stroke-width="0.7"/><polygon points="481.96,124.05 485.96,124.05 483.96,120.25" fill="#fff" stroke="#000" stroke-width="0.7"/></g>
<g><polygon points="278.9,205.3 283.1,205.3 281,201.3" fill="#000"/><polygon points="281.26,205.3 285.46,205.3 283.36,201.3" fill="#000"/><polygon points="283.62,205.3 287.82,205.3 285.72,201.3" fill="#000"/><polygon points="285.98,199.89 290.18,199.89 288.08,195.89" fill="#000"/><polygon points="288.34,199.89 292.54,199.89 290.44,195.89" fill="#000"/><polygon points="290.7,199.89 294.9,199.89 292.8,195.89" fill="#000"/><polygon points="293.06,194.48 297.26,194.48 295.16,190.48" fill="#000"/><polygon points="295.42,194.48 299.62,194.48 297.52,190.48" fill="#000"/><polygon points="297.78,194.48 301.98,194.48 299.88,190.48" fill="#000"/><polygon points="300.14,189.07 304.34,189.07 302.24,185.07" fill="#000"/><polygon points="302.5,189.07 306.7,189.07 304.6,185.07" fill="#000"/><polygon points="304.86,189.07 309.06,189.07 306.96,185.07" fill="#000"/><polygon points="307.22,183.66 311.42,183.66 309.32,179.66" fill="#000"/><polygon points="309.58,183.66 313.78,183.66 311.68,179.66" fill="#000"/><polygon points="311.94,178.25 316.14,178.25 314.04,174.25" fill="#000"/><polygon points="314.3,178.25 318.5,178.25 316.4,174.25" fill="#000"/><polygon points="316.66,178.25 320.86,178.25 318.76,174.25" fill="#000"/><polygon points="319.02,172.84 323.22,172.84 321.12,168.84" fill="#000"/><polygon points="321.38,172.84 325.58,172.84 323.48,168.84" fill="#000"/><polygon points="323.74,167.43 327.94,167.43 325.84,163.43" fill="#000"/><polygon points="326.1,167.43 330.3,167.43 328.2,163.43" fill="#000"/><polygon points="328.46,167.43 332.66,167.43 330.56,163.43" fill="#000"/><polygon points="330.82,162.02 335.02,162.02 332.92,158.02" fill="#000"/><polygon points="333.18,162.02 337.38,162.02 335.28,158.02" fill="#000"/><polygon points="335.54,156.61 339.74,156.61 337.64,152.61" fill="#000"/><polygon points="337.9,156.61 342.1,156.61 340,152.61" fill="#000"/><polygon points="340.26,151.2 344.46,151.2 342.36,147.2" fill="#000"/><polygon points="342.62,151.2 346.82,151.2 344.72,147.2" fill="#000"/><polygon points="344.98,151.2 349.18,151.2 347.08,147.2" fill="#000"/><polygon points="347.34,151.2 351.54,151.2 349.44,147.2" fill="#000"/><polygon points="349.7,151.2 353.9,151.2 351.8,147.2" fill="#000"/><polygon points="352.06,151.2 356.26,151.2 354.16,147.2" fill="#000"/><polygon points="354.42,151.2 358.62,151.2 356.52,147.2" fill="#000"/><polygon points="356.78,145.79 360.98,145.79 358.88,141.79" fill="#000"/><polygon points="359.14,145.79 363.34,145.79 361.24,141.79" fill="#000"/><polygon points="361.5,145.79 365.7,145.79 363.6,141.79" fill="#000"/><polygon points="363.86,145.79 368.06,145.79 365.96,141.79" fill="#000"/><polygon points="366.22,145.79 370.42,145.79 368.32,141.79" fill="#000"/><polygon points="368.58,145.79 372.78,145.79 370.68,141.79" fill="#000"/><polygon points="370.94,140.38 375.14,140.38 373.04,136.38" fill="#000"/><polygon points="373.3,140.38 377.5,140.38 375.4,136.38" fill="#000"/><polygon points="375.66,140.38 379.86,140.38 377.76,136.38" fill="#000"/><polygon points="378.02,140.38 382.22,140.38 380.12,136.38" fill="#000"/><polygon points="380.38,140.38 384.58,140.38 382.48,136.38" fill="#000"/><polygon points="382.74,140.38 386.94,140.38 384.84,136.38" fill="#000"/><polygon points="385.1,140.38 389.3,140.38 387.2,136.38" fill="#000"/><polygon points="387.46,140.38 391.66,140.38 389.56,136.38" fill="#000"/><polygon points="389.82,140.38 394.02,140.38 391.92,136.38" fill="#000"/><polygon points="392.18,134.97 396.38,134.97 394.28,130.97" fill="#000"/><polygon points="394.54,134.97 398.74,134.97 396.64,130.97" fill="#000"/><polygon points="396.9,134.97 401.1,134.97 399,130.97" fill="#000"/><polygon points="399.26,134.97 403.46,134.97 401.36,130.97" fill="#000"/><polygon points="401.62,134.97 405.82,134.97 403.72,130.97" fill="#000"/><polygon points="403.98,134.97 408.18,134.97 406.08,130.97" fill="#000"/><polygon points="406.34,134.97 410.54,134.97 408.44,130.97" fill="#000"/><polygon points="408.7,134.97 412.9,134.97 410.8,130.97" fill="#000"/><polygon points="411.06,134.97 415.26,134.97 413.16,130.97" fill="#000"/><polygon points="413.42,129.56 417.62,129.56 415.52,125.56" fill="#000"/><polygon points="415.78,129.56 419.98,129.56 417.88,125.56" fill="#000"/><polygon points="418.14,129.56 422.34,129.56 420.24,125.56" fill="#000"/><polygon points="420.5,129.56 424.7,129.56 422.6,125.56" fill="#000"/><polygon points="422.86,129.56 427.06,129.56 424.96,125.56" fill="#000"/><polygon points="425.22,129.56 429.42,129.56 427.32,125.56" fill="#000"/><polygon points="427.58,129.56 431.78,129.56 429.68,125.56" fill="#000"/><polygon points="429.94,129.56 434.14,129.56 432.04,125.56" fill="#000"/><polygon points="432.3,129.56 436.5,129.56 434.4,125.56" fill="#000"/><polygon points="434.66,129.56 438.86,129.56 436.76,125.56" fill="#000"/><polygon points="437.02,129.56 441.22,129.56 439.12,125.56" fill="#000"/><polygon points="439.38,129.56 443.58,129.56 441.48,125.56" fill="#000"/><polygon points="441.74,129.56 445.94,129.56 443.84,125.56" fill="#000"/><polygon points="444.1,129.56 448.3,129.56 446.2,125.56" fill="#000"/><polygon points="446.46,129.56 450.66,129.56 448.56,125.56" fill="#000"/><polygon points="448.82,129.56 453.02,129.56 450.92,125.56" fill="#000"/><polygon points="451.18,124.15 455.38,124.15 453.28,120.15" fill="#000"/><polygon points="453.54,124.15 457.74,124.15 455.64,120.15" fill="#000"/><polygon points="455.9,124.15 460.1,124.15 458,120.15" fill="#000"/><polygon points="458.26,124.15 462.46,124.15 460.36,120.15" fill="#000"/><polygon points="460.62,124.15 464.82,124.15 462.72,120.15" fill="#000"/><polygon points="462.98,124.15 467.18,124.15 465.08,120.15" fill="#000"/><polygon points="465.34,124.15 469.54,124.15 467.44,120.15" fill="#000"/><polygon points="467.7,124.15 471.9,124.15 469.8,120.15" fill="#000"/><polygon points="470.06,124.15 474.26,124.15 472.16,120.15" fill="#000"/><polygon points="472.42,124.15 476.62,124.15 474.52,120.15" fill="#000"/><polygon points="474.78,124.15 478.98,124.15 476.88,120.15" fill="#000"/><polygon points="477.14,124.15 481.34,124.15 479.24,120.15" fill="#000"/><polygon points="479.5,124.15 483.7,124.15 481.6,120.15" fill="#000"/><polygon points="481.86,124.15 486.06,124.15 483.96,120.15" fill="#000"/></g>
<g><rect x="278.6" y="200.9" width="4.8" height="4.8" fill="#000"/><rect x="280.96" y="200.9" width="4.8" height="4.8" fill="#000"/><rect x="283.32" y="195.49" width="4.8" height="4.8" fill="#000"/><rect x="285.68" y="195.49" width="4.8" height="4.8" fill="#000"/><rect x="288.04" y="195.49" width="4.8" height="4.8" fill="#000"/><rect x="290.4" y="190.08" width="4.8" height="4.8" fill="#000"/><rect x="292.76" y="190.08" width="4.8" height="4.8" fill="#000"/><rect x="295.12" y="190.08" width="4.8" height="4.8" fill="#000"/><rect x="297.48" y="184.67" width="4.8" height="4.8" fill="#000"/><rect x="299.84" y="184.67" width="4.8" height="4.8" fill="#000"/><rect x="302.2" y="184.67" width="4.8" height="4.8" fill="#000"/><rect x="304.56" y="179.26" width="4.8" height="4.8" fill="#000"/><rect x="306.92" y="179.26" width="4.8" height="4.8" fill="#000"/><rect x="309.28" y="173.85" width="4.8" height="4.8" fill="#000"/><rect x="311.64" y="173.85" width="4.8" height="4.8" fill="#000"/><rect x="314" y="173.85" width="4.8" height="4.8" fill="#000"/><rect x="316.36" y="168.44" width="4.8" height="4.8" fill="#000"/><rect x="318.72" y="168.44" width="4.8" height="4.8" fill="#000"/><rect x="321.08" y="163.03" width="4.8" height="4.8" fill="#000"/><rect x="323.44" y="163.03" width="4.8" height="4.8" fill="#000"/><rect x="325.8" y="157.62" width="4.8" height="4.8" fill="#000"/><rect x="328.16" y="157.62" width="4.8" height="4.8" fill="#000"/><rect x="330.52" y="152.21" width="4.8" height="4.8" fill="#000"/><rect x="332.88" y="152.21" width="4.8" height="4.8" fill="#000"/><rect x="335.24" y="146.8" width="4.8" height="4.8" fill="#000"/><rect x="337.6" y="146.8" width="4.8" height="4.8" fill="#000"/><rect x="339.96" y="146.8" width="4.8" height="4.8" fill="#000"/><rect x="342.32" y="146.8" width="4.8" height="4.8" fill="#000"/><rect x="344.68" y="146.8" width="4.8" height="4.8" fill="#000"/><rect x="347.04" y="146.8" width="4.8" height="4.8" fill="#000"/><rect x="349.4" y="141.39" width="4.8" height="4.8" fill="#000"/><rect x="351.76" y="141.39" width="4.8" height="4.8" fill="#000"/><rect x="354.12" y="141.39" width="4.8" height="4.8" fill="#000"/><rect x="356.48" y="135.98" width="4.8" height="4.8" fill="#000"/><rect x="358.84" y="135.98" width="4.8" height="4.8" fill="#000"/><rect x="361.2" y="135.98" width="4.8" height="4.8" fill="#000"/><rect x="363.56" y="135.98" width="4.8" height="4.8" fill="#000"/><rect x="365.92" y="130.57" width="4.8" height="4.8" fill="#000"/><rect x="368.28" y="130.57" width="4.8" height="4.8" fill="#000"/><rect x="370.64" y="130.57" width="4.8" height="4.8" fill="#000"/><rect x="373" y="130.57" width="4.8" height="4.8" fill="#000"/><rect x="375.36" y="130.57" width="4.8" height="4.8" fill="#000"/><rect x="377.72" y="130.57" width="4.8" height="4.8" fill="#000"/><rect x="380.08" y="130.57" width="4.8" height="4.8" fill="#000"/><rect x="382.44" y="130.57" width="4.8" height="4.8" fill="#000"/><rect x="384.8" y="130.57" width="4.8" height="4.8" fill="#000"/><rect x="387.16" y="125.16" width="4.8" height="4.8" fill="#000"/><rect x="389.52" y="125.16" width="4.8" height="4.8" fill="#000"/><rect x="391.88" y="125.16" width="4.8" height="4.8" fill="#000"/><rect x="394.24" y="125.16" width="4.8" height="4.8" fill="#000"/><rect x="396.6" y="125.16" width="4.8" height="4.8" fill="#000"/><rect x="398.96" y="125.16" width="4.8" height="4.8" fill="#000"/><rect x="401.32" y="125.16" width="4.8" height="4.8" fill="#000"/><rect x="403.68" y="125.16" width="4.8" height="4.8" fill="#000"/><rect x="406.04" y="125.16" width="4.8" height="4.8" fill="#000"/><rect x="408.4" y="125.16" width="4.8" height="4.8" fill="#000"/><rect x="410.76" y="125.16" width="4.8" height="4.8" fill="#000"/><rect x="413.12" y="119.75" width="4.8" height="4.8" fill="#000"/><rect x="415.48" y="119.75" width="4.8" height="4.8" fill="#000"/><rect x="417.84" y="119.75" width="4.8" height="4.8" fill="#000"/><rect x="420.2" y="119.75" width="4.8" height="4.8" fill="#000"/><rect x="422.56" y="119.75" width="4.8" height="4.8" fill="#000"/><rect x="424.92" y="119.75" width="4.8" height="4.8" fill="#000"/><rect x="427.28" y="119.75" width="4.8" height="4.8" fill="#000"/><rect x="429.64" y="119.75" width="4.8" height="4.8" fill="#000"/><rect x="432" y="119.75" width="4.8" height="4.8" fill="#000"/><rect x="434.36" y="119.75" width="4.8" height="4.8" fill="#000"/><rect x="436.72" y="119.75" width="4.8" height="4.8" fill="#000"/><rect x="439.08" y="119.75" width="4.8" height="4.8" fill="#000"/><rect x="441.44" y="119.75" width="4.8" height="4.8" fill="#000"/><rect x="443.8" y="114.34" width="4.8" height="4.8" fill="#000"/><rect x="446.16" y="114.34" width="4.8" height="4.8" fill="#000"/><rect x="448.52" y="114.34" width="4.8" height="4.8" fill="#000"/><rect x="450.88" y="114.34" width="4.8" height="4.8" fill="#000"/><rect x="453.24" y="114.34" width="4.8" height="4.8" fill="#000"/><rect x="455.6" y="114.34" width="4.8" height="4.8" fill="#000"/><rect x="457.96" y="114.34" width="4.8" height="4.8" fill="#000"/><rect x="460.32" y="114.34" width="4.8" height="4.8" fill="#000"/><rect x="462.68" y="114.34" width="4.8" height="4.8" fill="#000"/><rect x="465.04" y="114.34" width="4.8" height="4.8" fill="#000"/><rect x="467.4" y="114.34" width="4.8" height="4.8" fill="#000"/><rect x="469.76" y="114.34" width="4.8" height="4.8" fill="#000"/><rect x="472.12" y="114.34" width="4.8" height="4.8" fill="#000"/><rect x="474.48" y="114.34" width="4.8" height="4.8" fill="#000"/><rect x="476.84" y="114.34" width="4.8" height="4.8" fill="#000"/><rect x="479.2" y="114.34" width="4.8" height="4.8" fill="#000"/><rect x="481.56" y="114.34" width="4.8" height="4.8" fill="#000"/></g>
<g><rect x="279.5" y="202.7" width="3" height="3.6" fill="#000"/><rect x="281.86" y="202.7" width="3" height="3.6" fill="#000"/><rect x="284.22" y="202.7" width="3" height="3.6" fill="#000"/><rect x="286.58" y="202.7" width="3" height="3.6" fill="#000"/><rect x="288.94" y="202.7" width="3" height="3.6" fill="#000"/><rect x="291.3" y="202.7" width="3" height="3.6" fill="#000"/><rect x="293.66" y="202.7" width="3" height="3.6" fill="#000"/><rect x="296.02" y="202.7" width="3" height="3.6" fill="#000"/><rect x="298.38" y="202.7" width="3" height="3.6" fill="#000"/><rect x="300.74" y="202.7" width="3" height="3.6" fill="#000"/><rect x="303.1" y="202.7" width="3" height="3.6" fill="#000"/><rect x="305.46" y="202.7" width="3" height="3.6" fill="#000"/><rect x="307.82" y="202.7" width="3" height="3.6" fill="#000"/><rect x="310.18" y="202.7" width="3" height="3.6" fill="#000"/><rect x="312.54" y="202.7" width="3" height="3.6" fill="#000"/><rect x="314.9" y="202.7" width="3" height="3.6" fill="#000"/><rect x="317.26" y="202.7" width="3" height="3.6" fill="#000"/><rect x="319.62" y="202.7" width="3" height="3.6" fill="#000"/><rect x="321.98" y="202.7" width="3" height="3.6" fill="#000"/><rect x="324.34" y="202.7" width="3" height="3.6" fill="#000"/><rect x="326.7" y="202.7" width="3" height="3.6" fill="#000"/><rect x="329.06" y="202.7" width="3" height="3.6" fill="#000"/><rect x="331.42" y="202.7" width="3" height="3.6" fill="#000"/><rect x="333.78" y="202.7" width="3" height="3.6" fill="#000"/><rect x="336.14" y="202.7" width="3" height="3.6" fill="#000"/><rect x="338.5" y="202.7" width="3" height="3.6" fill="#000"/><rect x="340.86" y="202.7" width="3" height="3.6" fill="#000"/><rect x="343.22" y="202.7" width="3" height="3.6" fill="#000"/><rect x="345.58" y="202.7" width="3" height="3.6" fill="#000"/><rect x="347.94" y="202.7" width="3" height="3.6" fill="#000"/><rect x="350.3" y="202.7" width="3" height="3.6" fill="#000"/><rect x="352.66" y="199.3" width="3" height="3.6" fill="#000"/><rect x="355.02" y="199.3" width="3" height="3.6" fill="#000"/><rect x="357.38" y="199.3" width="3" height="3.6" fill="#000"/><rect x="359.74" y="199.3" width="3" height="3.6" fill="#000"/><rect x="362.1" y="199.3" width="3" height="3.6" fill="#000"/><rect x="364.46" y="199.3" width="3" height="3.6" fill="#000"/><rect x="366.82" y="199.3" width="3" height="3.6" fill="#000"/><rect x="369.18" y="199.3" width="3" height="3.6" fill="#000"/><rect x="371.54" y="199.3" width="3" height="3.6" fill="#000"/><rect x="373.9" y="199.3" width="3" height="3.6" fill="#000"/><rect x="376.26" y="199.3" width="3" height="3.6" fill="#000"/><rect x="378.62" y="199.3" width="3" height="3.6" fill="#000"/><rect x="380.98" y="199.3" width="3" height="3.6" fill="#000"/><rect x="383.34" y="199.3" width="3" height="3.6" fill="#000"/><rect x="385.7" y="199.3" width="3" height="3.6" fill="#000"/><rect x="388.06" y="199.3" width="3" height="3.6" fill="#000"/><rect x="390.42" y="199.3" width="3" height="3.6" fill="#000"/><rect x="392.78" y="199.3" width="3" height="3.6" fill="#000"/><rect x="395.14" y="199.3" width="3" height="3.6" fill="#000"/><rect x="397.5" y="199.3" width="3" height="3.6" fill="#000"/><rect x="399.86" y="199.3" width="3" height="3.6" fill="#000"/><rect x="402.22" y="199.3" width="3" height="3.6" fill="#000"/><rect x="404.58" y="199.3" width="3" height="3.6" fill="#000"/><rect x="406.94" y="199.3" width="3" height="3.6" fill="#000"/><rect x="409.3" y="199.3" width="3" height="3.6" fill="#000"/><rect x="411.66" y="199.3" width="3" height="3.6" fill="#000"/><rect x="414.02" y="196.4" width="3" height="3.6" fill="#000"/><rect x="416.38" y="196.4" width="3" height="3.6" fill="#000"/><rect x="418.74" y="196.4" width="3" height="3.6" fill="#000"/><rect x="421.1" y="196.4" width="3" height="3.6" fill="#000"/><rect x="423.46" y="196.4" width="3" height="3.6" fill="#000"/><rect x="425.82" y="196.4" width="3" height="3.6" fill="#000"/><rect x="428.18" y="196.4" width="3" height="3.6" fill="#000"/><rect x="430.54" y="196.4" width="3" height="3.6" fill="#000"/><rect x="432.9" y="196.4" width="3" height="3.6" fill="#000"/><rect x="435.26" y="196.4" width="3" height="3.6" fill="#000"/><rect x="437.62" y="196.4" width="3" height="3.6" fill="#000"/><rect x="439.98" y="196.4" width="3" height="3.6" fill="#000"/><rect x="442.34" y="196.4" width="3" height="3.6" fill="#000"/><rect x="444.7" y="196.4" width="3" height="3.6" fill="#000"/><rect x="447.06" y="196.4" width="3" height="3.6" fill="#000"/><rect x="449.42" y="196.4" width="3" height="3.6" fill="#000"/><rect x="451.78" y="196.4" width="3" height="3.6" fill="#000"/><rect x="454.14" y="196.4" width="3" height="3.6" fill="#000"/><rect x="456.5" y="196.4" width="3" height="3.6" fill="#000"/><rect x="458.86" y="196.4" width="3" height="3.6" fill="#000"/><rect x="461.22" y="196.4" width="3" height="3.6" fill="#000"/><rect x="463.58" y="196.4" width="3" height="3.6" fill="#000"/><rect x="465.94" y="196.4" width="3" height="3.6" fill="#000"/><rect x="468.3" y="196.4" width="3" height="3.6" fill="#000"/><rect x="470.66" y="196.4" width="3" height="3.6" fill="#000"/><rect x="473.02" y="196.4" width="3" height="3.6" fill="#000"/><rect x="475.38" y="196.4" width="3" height="3.6" fill="#000"/><rect x="477.74" y="196.4" width="3" height="3.6" fill="#000"/><rect x="480.1" y="196.4" width="3" height="3.6" fill="#000"/><rect x="482.46" y="196.4" width="3" height="3.6" fill="#000"/></g>
<path d="M281 192.88 L283.36 192.88 L285.72 187.47 L288.08 182.06 L290.44 176.65 L292.8 171.24 L295.16 165.83 L297.52 160.42 L299.88 155.01 L302.24 149.6 L304.6 149.6 L306.96 144.19 L309.32 138.78 L311.68 127.96 L314.04 127.96 L316.4 122.55 L318.76 117.14 L321.12 111.73 L323.48 106.32 L325.84 106.32 L328.2 100.91 L330.56 95.5 L332.92 95.5 L335.28 90.09 L337.64 90.09 L340 84.68 L342.36 84.68 L344.72 79.27 L347.08 79.27 L349.44 73.86 L351.8 73.86 L354.16 68.45 L356.52 68.45 L358.88 68.45 L361.24 68.45 L363.6 68.45 L365.96 63.04 L368.32 63.04 L370.68 63.04 L373.04 52.22 L375.4 52.22 L377.76 52.22 L380.12 52.22 L382.48 52.22 L384.84 52.22 L387.2 52.22 L389.56 52.22 L391.92 46.81 L394.28 46.81 L396.64 46.81 L399 46.81 L401.36 46.81 L403.72 46.81 L406.08 46.81 L408.44 41.4 L410.8 41.4 L413.16 41.4 L415.52 41.4 L417.88 41.4 L420.24 41.4 L422.6 41.4 L424.96 41.4 L427.32 41.4 L429.68 41.4 L432.04 41.4 L434.4 35.99 L436.76 35.99 L439.12 35.99 L441.48 35.99 L443.84 35.99 L446.2 35.99 L448.56 35.99 L450.92 35.99 L453.28 35.99 L455.64 35.99 L458 35.99 L460.36 35.99 L462.72 35.99 L465.08 35.99 L467.44 35.99 L469.8 35.99 L472.16 35.99 L474.52 35.99 L476.88 35.99 L479.24 35.99 L481.6 35.99" fill="none" stroke="#000" stroke-width="0.9"/>
<g><circle cx="281" cy="192.88" r="1.4" fill="#000"/><circle cx="283.36" cy="192.88" r="1.4" fill="#000"/><circle cx="285.72" cy="187.47" r="1.4" fill="#000"/><circle cx="288.08" cy="182.06" r="1.4" fill="#000"/><circle cx="290.44" cy="176.65" r="1.4" fill="#000"/><circle cx="292.8" cy="171.24" r="1.4" fill="#000"/><circle cx="295.16" cy="165.83" r="1.4" fill="#000"/><circle cx="297.52" cy="160.42" r="1.4" fill="#000"/><circle cx="299.88" cy="155.01" r="1.4" fill="#000"/><circle cx="302.24" cy="149.6" r="1.4" fill="#000"/><circle cx="304.6" cy="149.6" r="1.4" fill="#000"/><circle cx="306.96" cy="144.19" r="1.4" fill="#000"/><circle cx="309.32" cy="138.78" r="1.4" fill="#000"/><circle cx="311.68" cy="127.96" r="1.4" fill="#000"/><circle cx="314.04" cy="127.96" r="1.4" fill="#000"/><circle cx="316.4" cy="122.55" r="1.4" fill="#000"/><circle cx="318.76" cy="117.14" r="1.4" fill="#000"/><circle cx="321.12" cy="111.73" r="1.4" fill="#000"/><circle cx="323.48" cy="106.32" r="1.4" fill="#000"/><circle cx="325.84" cy="106.32" r="1.4" fill="#000"/><circle cx="328.2" cy="100.91" r="1.4" fill="#000"/><circle cx="330.56" cy="95.5" r="1.4" fill="#000"/><circle cx="332.92" cy="95.5" r="1.4" fill="#000"/><circle cx="335.28" cy="90.09" r="1.4" fill="#000"/><circle cx="337.64" cy="90.09" r="1.4" fill="#000"/><circle cx="340" cy="84.68" r="1.4" fill="#000"/><circle cx="342.36" cy="84.68" r="1.4" fill="#000"/><circle cx="344.72" cy="79.27" r="1.4" fill="#000"/><circle cx="347.08" cy="79.27" r="1.4" fill="#000"/><circle cx="349.44" cy="73.86" r="1.4" fill="#000"/><circle cx="351.8" cy="73.86" r="1.4" fill="#000"/><circle cx="354.16" cy="68.45" r="1.4" fill="#000"/><circle cx="356.52" cy="68.45" r="1.4" fill="#000"/><circle cx="358.88" cy="68.45" r="1.4" fill="#000"/><circle cx="361.24" cy="68.45" r="1.4" fill="#000"/><circle cx="363.6" cy="68.45" r="1.4" fill="#000"/><circle cx="365.96" cy="63.04" r="1.4" fill="#000"/><circle cx="368.32" cy="63.04" r="1.4" fill="#000"/><circle cx="370.68" cy="63.04" r="1.4" fill="#000"/><circle cx="373.04" cy="52.22" r="1.4" fill="#000"/><circle cx="375.4" cy="52.22" r="1.4" fill="#000"/><circle cx="377.76" cy="52.22" r="1.4" fill="#000"/><circle cx="380.12" cy="52.22" r="1.4" fill="#000"/><circle cx="382.48" cy="52.22" r="1.4" fill="#000"/><circle cx="384.84" cy="52.22" r="1.4" fill="#000"/><circle cx="387.2" cy="52.22" r="1.4" fill="#000"/><circle cx="389.56" cy="52.22" r="1.4" fill="#000"/><circle cx="391.92" cy="46.81" r="1.4" fill="#000"/><circle cx="394.28" cy="46.81" r="1.4" fill="#000"/><circle cx="396.64" cy="46.81" r="1.4" fill="#000"/><circle cx="399" cy="46.81" r="1.4" fill="#000"/><circle cx="401.36" cy="46.81" r="1.4" fill="#000"/><circle cx="403.72" cy="46.81" r="1.4" fill="#000"/><circle cx="406.08" cy="46.81" r="1.4" fill="#000"/><circle cx="408.44" cy="41.4" r="1.4" fill="#000"/><circle cx="410.8" cy="41.4" r="1.4" fill="#000"/><circle cx="413.16" cy="41.4" r="1.4" fill="#000"/><circle cx="415.52" cy="41.4" r="1.4" fill="#000"/><circle cx="417.88" cy="41.4" r="1.4" fill="#000"/><circle cx="420.24" cy="41.4" r="1.4" fill="#000"/><circle cx="422.6" cy="41.4" r="1.4" fill="#000"/><circle cx="424.96" cy="41.4" r="1.4" fill="#000"/><circle cx="427.32" cy="41.4" r="1.4" fill="#000"/><circle cx="429.68" cy="41.4" r="1.4" fill="#000"/><circle cx="432.04" cy="41.4" r="1.4" fill="#000"/><circle cx="434.4" cy="35.99" r="1.4" fill="#000"/><circle cx="436.76" cy="35.99" r="1.4" fill="#000"/><circle cx="439.12" cy="35.99" r="1.4" fill="#000"/><circle cx="441.48" cy="35.99" r="1.4" fill="#000"/><circle cx="443.84" cy="35.99" r="1.4" fill="#000"/><circle cx="446.2" cy="35.99" r="1.4" fill="#000"/><circle cx="448.56" cy="35.99" r="1.4" fill="#000"/><circle cx="450.92" cy="35.99" r="1.4" fill="#000"/><circle cx="453.28" cy="35.99" r="1.4" fill="#000"/><circle cx="455.64" cy="35.99" r="1.4" fill="#000"/><circle cx="458" cy="35.99" r="1.4" fill="#000"/><circle cx="460.36" cy="35.99" r="1.4" fill="#000"/><circle cx="462.72" cy="35.99" r="1.4" fill="#000"/><circle cx="465.08" cy="35.99" r="1.4" fill="#000"/><circle cx="467.44" cy="35.99" r="1.4" fill="#000"/><circle cx="469.8" cy="35.99" r="1.4" fill="#000"/><circle cx="472.16" cy="35.99" r="1.4" fill="#000"/><circle cx="474.52" cy="35.99" r="1.4" fill="#000"/><circle cx="476.88" cy="35.99" r="1.4" fill="#000"/><circle cx="479.24" cy="35.99" r="1.4" fill="#000"/><circle cx="481.6" cy="35.99" r="1.4" fill="#000"/></g>
<text x="27.9" y="208.8" font-size="10" text-anchor="end" font-family="Liberation Serif, serif" fill="#000" stroke="#000" stroke-width="0.08" >0</text>
<text x="27.9" y="158.3" font-size="10" text-anchor="end" font-family="Liberation Serif, serif" fill="#000" stroke="#000" stroke-width="0.08" >10</text>
<text x="27.9" y="107.8" font-size="10" text-anchor="end" font-family="Liberation Serif, serif" fill="#000" stroke="#000" stroke-width="0.08" >20</text>
<text x="27.9" y="57.3" font-size="10" text-anchor="end" font-family="Liberation Serif, serif" fill="#000" stroke="#000" stroke-width="0.08" >30</text>
<text x="27.9" y="6.8" font-size="10" text-anchor="end" font-family="Liberation Serif, serif" fill="#000" stroke="#000" stroke-width="0.08" >40</text>
<text x="34.7" y="234" font-size="10" text-anchor="middle" font-family="Liberation Serif, serif" fill="#000" stroke="#000" stroke-width="0.08" >0</text>
<text x="282" y="235.8" font-size="10" text-anchor="middle" font-family="Liberation Serif, serif" fill="#000" stroke="#000" stroke-width="0.08" >0</text>
<text x="90.4" y="234" font-size="10" text-anchor="middle" font-family="Liberation Serif, serif" fill="#000" stroke="#000" stroke-width="0.08" >5</text>
<text x="338.1" y="233.7" font-size="10" text-anchor="middle" font-family="Liberation Serif, serif" fill="#000" stroke="#000" stroke-width="0.08" >5</text>
<text x="147.1" y="234" font-size="10" text-anchor="middle" font-family="Liberation Serif, serif" fill="#000" stroke="#000" stroke-width="0.08" >10</text>
<text x="394.8" y="233.7" font-size="10" text-anchor="middle" font-family="Liberation Serif, serif" fill="#000" stroke="#000" stroke-width="0.08" >10</text>
<text x="203.8" y="234" font-size="10" text-anchor="middle" font-family="Liberation Serif, serif" fill="#000" stroke="#000" stroke-width="0.08" >15</text>
<text x="451.5" y="233.7" font-size="10" text-anchor="middle" font-family="Liberation Serif, serif" fill="#000" stroke="#000" stroke-width="0.08" >15</text>
<text x="260.5" y="234" font-size="10" text-anchor="middle" font-family="Liberation Serif, serif" fill="#000" stroke="#000" stroke-width="0.08" >20</text>
<text x="508.2" y="233.7" font-size="10" text-anchor="middle" font-family="Liberation Serif, serif" fill="#000" stroke="#000" stroke-width="0.08" >20</text>
<text x="144.2" y="247.8" font-size="13.6" text-anchor="middle" font-family="Liberation Serif, serif" font-weight="bold" fill="#000" stroke="#000" stroke-width="0.2" >Minutes</text>
<text x="392.8" y="247.8" font-size="13.6" text-anchor="middle" font-family="Liberation Serif, serif" font-weight="bold" fill="#000" stroke="#000" stroke-width="0.2" >Minutes</text>
<text transform=" translate(11.4,106.3) rotate(-90)" font-size="14.1" stroke="#000" stroke-width="0.2" text-anchor="middle" font-family="Liberation Serif, serif" font-weight="bold" fill="#111">Percent Transmittance</text>
<text x="35.7" y="25.7" font-size="23" text-anchor="start" font-family="Liberation Sans, sans-serif" font-weight="bold" fill="#000" stroke="#000" stroke-width="0.5" >A</text>
<text x="282.6" y="25.7" font-size="23" text-anchor="start" font-family="Liberation Sans, sans-serif" font-weight="bold" fill="#000" stroke="#000" stroke-width="0.5" >B</text>
<text x="488.8" y="39" font-size="10.3" text-anchor="start" font-family="Liberation Serif, serif" fill="#000" stroke="#000" stroke-width="0.2" >0%</text>
<text x="488.8" y="93.5" font-size="10.3" text-anchor="start" font-family="Liberation Serif, serif" fill="#000" stroke="#000" stroke-width="0.2" >20%</text>
<text x="488.8" y="113" font-size="10.3" text-anchor="start" font-family="Liberation Serif, serif" fill="#000" stroke="#000" stroke-width="0.2" >40%</text>
<text x="488.8" y="124" font-size="10.3" text-anchor="start" font-family="Liberation Serif, serif" fill="#000" stroke="#000" stroke-width="0.2" >50%</text>
<text x="488.8" y="134.2" font-size="10.3" text-anchor="start" font-family="Liberation Serif, serif" fill="#000" stroke="#000" stroke-width="0.2" >60%</text>
<text x="488.8" y="158" font-size="10.3" text-anchor="start" font-family="Liberation Serif, serif" fill="#000" stroke="#000" stroke-width="0.2" >80%</text>
<text x="488.8" y="200" font-size="10.3" text-anchor="start" font-family="Liberation Serif, serif" fill="#000" stroke="#000" stroke-width="0.2" >100%</text>
<text x="169.6" y="30.6" textLength="57.4" lengthAdjust="spacingAndGlyphs" font-size="8.0" font-family="Liberation Serif, serif" fill="#000" stroke="#000" stroke-width="0.25"><tspan font-weight="bold">0 mM</tspan> 9.2 30' 4°C</text>
<text x="108" y="45.6" textLength="62.8" lengthAdjust="spacingAndGlyphs" font-size="8.0" font-family="Liberation Serif, serif" fill="#000" stroke="#000" stroke-width="0.25"><tspan font-weight="bold">0 mM</tspan> 9.2 60' 25°C</text>
<text x="75.9" y="72.5" textLength="62.8" lengthAdjust="spacingAndGlyphs" font-size="8.0" font-family="Liberation Serif, serif" fill="#000" stroke="#000" stroke-width="0.25"><tspan font-weight="bold">0 mM</tspan> 8.0 60' 25°C</text>
<text x="200.3" y="84.4" textLength="56.9" lengthAdjust="spacingAndGlyphs" font-size="8.0" font-family="Liberation Serif, serif" fill="#000" stroke="#000" stroke-width="0.25"><tspan font-weight="bold">0 mM</tspan> 8.0 60' 4°C</text>
<text x="173.5" y="158.5" textLength="64.0" lengthAdjust="spacingAndGlyphs" font-size="8.0" font-family="Liberation Serif, serif" fill="#000" stroke="#000" stroke-width="0.25"><tspan font-weight="bold">1.2 mM</tspan> 9.2 30' 4°C</text>
<text x="185.75" y="183.6" textLength="67.4" lengthAdjust="spacingAndGlyphs" font-size="8.0" font-family="Liberation Serif, serif" fill="#000" stroke="#000" stroke-width="0.25"><tspan font-weight="bold">1.2 mM</tspan> 9.2 60' 25°C</text>
<text x="69.5" y="216.4" textLength="66.75" lengthAdjust="spacingAndGlyphs" font-size="8.0" font-family="Liberation Serif, serif" fill="#000" stroke="#000" stroke-width="0.25"><tspan font-weight="bold">1.2 mM</tspan> 8.0 60' 25°C</text>
<text x="198" y="216.4" textLength="63.5" lengthAdjust="spacingAndGlyphs" font-size="8.0" font-family="Liberation Serif, serif" fill="#000" stroke="#000" stroke-width="0.25"><tspan font-weight="bold">1.2 mM</tspan> 8.0 60' 4°C</text>
<circle cx="200.75" cy="18.5" r="4.2" fill="#fff" stroke="#000" stroke-width="1.0"/>
<circle cx="200.75" cy="18.5" r="2.2" fill="#000"/>
<circle cx="140.8" cy="34" r="4.2" fill="#fff" stroke="#000" stroke-width="1.0"/>
<g><polygon points="138.4,35.9 143.2,35.9 140.8,31.5" fill="#000"/></g>
<circle cx="104.5" cy="58.4" r="4.2" fill="#fff" stroke="#000" stroke-width="1.0"/>
<g><rect x="102.85" y="56.75" width="3.3" height="3.3" fill="#777" stroke="#222" stroke-width="1.2"/></g>
<circle cx="228.25" cy="91.25" r="4.2" fill="#fff" stroke="#000" stroke-width="1.0"/>
<g><rect x="226.35" y="89.35" width="3.8" height="3.8" fill="#000"/></g>
<circle cx="203.75" cy="145.5" r="4.2" fill="#fff" stroke="#000" stroke-width="1.0"/>
<g><circle cx="203.75" cy="145.5" r="1.45" fill="#fff" stroke="#000" stroke-width="1.2"/></g>
<circle cx="177" cy="182" r="4.2" fill="#fff" stroke="#000" stroke-width="1.0"/>
<g><polygon points="175.2,183.9 178.8,183.9 177,180.5" fill="#fff" stroke="#000" stroke-width="1.0"/></g>
<circle cx="147.5" cy="214.25" r="4.2" fill="#fff" stroke="#000" stroke-width="1.0"/>
<g><rect x="145.7" y="212.45" width="3.6" height="3.6" fill="#000"/></g>
<circle cx="189.5" cy="213.75" r="4.2" fill="#fff" stroke="#000" stroke-width="1.0"/>
<g><rect x="188.1" y="212.35" width="2.8" height="2.8" fill="#fff" stroke="#000" stroke-width="1.1"/></g>
<path d="M166.25 193.75 L181.25 213.75" stroke="#000" stroke-width="1.0" fill="none"/></svg></body></html>
